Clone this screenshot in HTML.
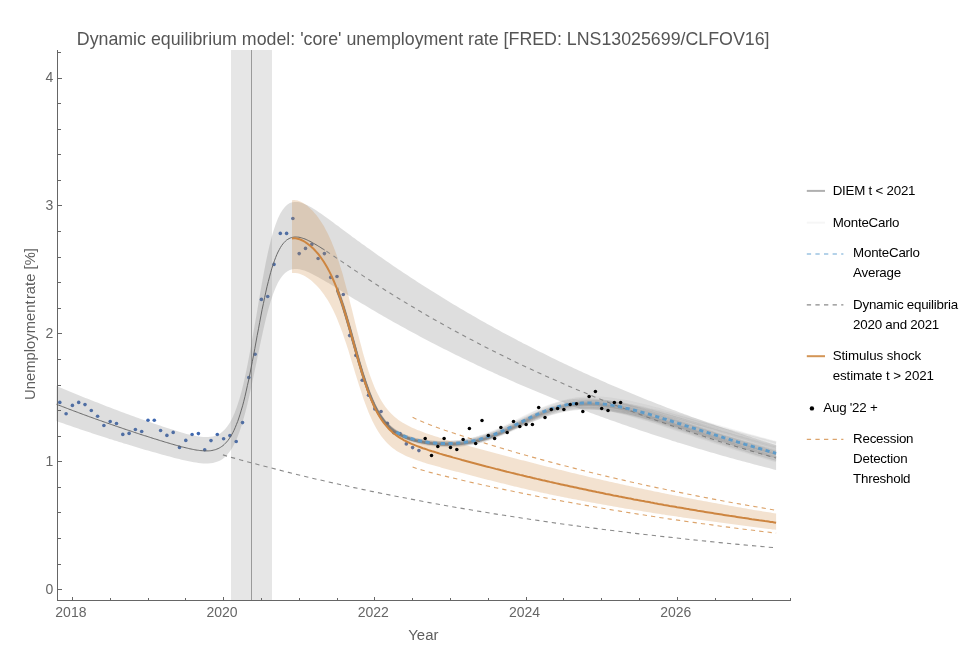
<!DOCTYPE html>
<html><head><meta charset="utf-8"><title>Dynamic equilibrium model</title>
<style>
html,body{margin:0;padding:0;background:#fff}
body{width:964px;height:668px;overflow:hidden;position:relative;font-family:"Liberation Sans",Arial,sans-serif}
svg{position:absolute;left:0;top:0}
svg text{font-family:"Liberation Sans",Arial,sans-serif}
.title{position:absolute;left:76.8px;top:28.5px;font-size:17.8px;line-height:20px;color:#555;white-space:nowrap}
.ylab{position:absolute;left:30.1px;top:324.3px;font-size:14.8px;line-height:16px;color:#5e5e5e;white-space:nowrap;transform:translate(-50%,-50%) rotate(-90deg)}
.xlab{position:absolute;left:408.3px;top:626.5px;font-size:14.9px;line-height:16px;color:#5e5e5e}
.lg{position:absolute;font-size:13.33px;letter-spacing:-0.23px;line-height:20px;color:#000;white-space:nowrap}
</style></head><body>
<svg width="964" height="668" viewBox="0 0 964 668">
<g fill="#3f68b0">
<circle cx="59.8" cy="402.4" r="1.8"/>
<circle cx="66.1" cy="413.7" r="1.8"/>
<circle cx="72.4" cy="405.4" r="1.8"/>
<circle cx="78.7" cy="402.4" r="1.8"/>
<circle cx="85.0" cy="404.6" r="1.8"/>
<circle cx="91.3" cy="410.5" r="1.8"/>
<circle cx="97.6" cy="416.3" r="1.8"/>
<circle cx="103.9" cy="425.5" r="1.8"/>
<circle cx="110.2" cy="421.5" r="1.8"/>
<circle cx="116.5" cy="423.5" r="1.8"/>
<circle cx="122.8" cy="434.4" r="1.8"/>
<circle cx="129.1" cy="433.4" r="1.8"/>
<circle cx="135.4" cy="429.5" r="1.8"/>
<circle cx="141.7" cy="431.5" r="1.8"/>
<circle cx="148.0" cy="420.3" r="1.8"/>
<circle cx="154.3" cy="420.3" r="1.8"/>
<circle cx="160.6" cy="430.5" r="1.8"/>
<circle cx="166.9" cy="435.4" r="1.8"/>
<circle cx="173.2" cy="432.4" r="1.8"/>
<circle cx="179.5" cy="447.4" r="1.8"/>
<circle cx="185.8" cy="440.4" r="1.8"/>
<circle cx="192.1" cy="434.5" r="1.8"/>
<circle cx="198.4" cy="433.6" r="1.8"/>
<circle cx="204.7" cy="449.8" r="1.8"/>
<circle cx="211.0" cy="440.6" r="1.8"/>
<circle cx="217.3" cy="434.5" r="1.8"/>
<circle cx="223.6" cy="438.8" r="1.8"/>
<circle cx="229.9" cy="435.6" r="1.8"/>
<circle cx="236.2" cy="441.5" r="1.8"/>
<circle cx="242.5" cy="422.6" r="1.8"/>
<circle cx="248.8" cy="377.6" r="1.8"/>
<circle cx="255.1" cy="354.3" r="1.8"/>
<circle cx="261.4" cy="299.4" r="1.8"/>
<circle cx="267.7" cy="296.5" r="1.8"/>
<circle cx="274.0" cy="264.4" r="1.8"/>
<circle cx="280.3" cy="233.4" r="1.8"/>
<circle cx="286.6" cy="233.4" r="1.8"/>
<circle cx="292.9" cy="218.5" r="1.8"/>
<circle cx="299.2" cy="253.6" r="1.8"/>
<circle cx="305.5" cy="248.4" r="1.8"/>
<circle cx="311.8" cy="244.4" r="1.8"/>
<circle cx="318.1" cy="258.5" r="1.8"/>
<circle cx="324.4" cy="253.6" r="1.8"/>
<circle cx="330.7" cy="277.4" r="1.8"/>
<circle cx="337.0" cy="276.5" r="1.8"/>
<circle cx="343.3" cy="294.5" r="1.8"/>
<circle cx="349.6" cy="335.6" r="1.8"/>
<circle cx="355.9" cy="355.4" r="1.8"/>
<circle cx="362.2" cy="380.2" r="1.8"/>
<circle cx="368.5" cy="395.2" r="1.8"/>
<circle cx="374.8" cy="408.9" r="1.8"/>
<circle cx="381.1" cy="411.5" r="1.8"/>
<circle cx="387.4" cy="423.4" r="1.8"/>
<circle cx="393.7" cy="432.8" r="1.8"/>
<circle cx="400.0" cy="433.5" r="1.8"/>
<circle cx="406.3" cy="443.9" r="1.8"/>
<circle cx="412.6" cy="447.6" r="1.8"/>
<circle cx="418.9" cy="450.6" r="1.8"/>
</g>
<rect x="231" y="50" width="41" height="550" fill="#808080" fill-opacity="0.2"/>
<rect x="251" y="50" width="1" height="550" fill="#9a9a9a"/>
<path d="M56.5,385.8 L58.9,386.9 L61.3,387.9 L63.7,388.9 L66.1,389.9 L68.5,390.9 L70.9,391.9 L73.3,392.9 L75.8,393.9 L78.2,394.9 L80.6,395.9 L83.0,396.9 L85.4,397.9 L87.8,398.8 L90.2,399.8 L92.6,400.7 L95.0,401.7 L97.4,402.6 L99.8,403.6 L102.2,404.5 L104.6,405.5 L107.0,406.4 L109.4,407.3 L111.9,408.2 L114.3,409.2 L116.7,410.1 L119.1,411.0 L121.5,411.9 L123.9,412.8 L126.3,413.7 L128.7,414.6 L131.1,415.4 L133.5,416.3 L135.9,417.2 L138.3,418.1 L140.7,418.9 L143.1,419.8 L145.5,420.6 L148.0,421.5 L150.4,422.3 L152.8,423.2 L155.2,424.0 L157.6,424.8 L160.0,425.6 L162.4,426.4 L164.8,427.2 L167.2,428.0 L169.6,428.8 L172.0,429.6 L174.4,430.3 L176.8,431.1 L179.2,431.8 L181.6,432.5 L184.1,433.2 L186.5,433.9 L188.9,434.5 L191.3,435.1 L193.7,435.6 L196.1,436.1 L198.5,436.5 L200.9,436.8 L203.3,437.0 L205.7,437.1 L208.1,437.1 L210.5,436.8 L212.9,436.4 L215.3,435.7 L217.7,434.7 L220.2,433.4 L222.6,431.6 L225.0,429.3 L227.4,426.3 L229.8,422.7 L232.2,418.3 L234.6,412.9 L237.0,406.6 L239.4,399.1 L241.8,390.4 L244.2,380.4 L246.6,369.3 L249.0,357.1 L251.4,344.0 L253.8,330.1 L256.3,315.9 L258.7,301.7 L261.1,287.7 L263.5,274.4 L265.9,262.0 L268.3,250.8 L270.7,240.8 L273.1,232.1 L275.5,224.7 L277.9,218.6 L280.3,213.6 L282.7,209.7 L285.1,206.7 L287.5,204.6 L289.9,203.1 L292.4,202.2 L294.8,201.9 L297.2,201.9 L299.6,202.3 L302.0,203.0 L304.4,203.9 L306.8,204.9 L309.2,206.2 L311.6,207.6 L314.0,209.0 L316.4,210.6 L318.8,212.2 L321.2,213.8 L323.6,215.5 L326.0,217.3 L328.5,219.0 L330.9,220.8 L333.3,222.6 L335.7,224.4 L338.1,226.1 L340.5,227.9 L342.9,229.7 L345.3,231.5 L347.7,233.3 L350.1,235.1 L352.5,236.9 L354.9,238.6 L357.3,240.4 L359.7,242.1 L362.1,243.9 L364.6,245.6 L367.0,247.4 L369.4,249.1 L371.8,250.8 L374.2,252.5 L376.6,254.2 L379.0,255.9 L381.4,257.6 L383.8,259.3 L386.2,260.9 L388.6,262.6 L391.0,264.3 L393.4,265.9 L395.8,267.5 L398.2,269.2 L400.7,270.8 L403.1,272.4 L405.5,274.0 L407.9,275.6 L410.3,277.2 L412.7,278.7 L415.1,280.3 L417.5,281.9 L419.9,283.4 L422.3,285.0 L424.7,286.5 L427.1,288.1 L429.5,289.6 L431.9,291.1 L434.4,292.6 L436.8,294.1 L439.2,295.6 L441.6,297.1 L444.0,298.6 L446.4,300.0 L448.8,301.5 L451.2,302.9 L453.6,304.4 L456.0,305.8 L458.4,307.3 L460.8,308.7 L463.2,310.1 L465.6,311.5 L468.0,312.9 L470.5,314.3 L472.9,315.7 L475.3,317.1 L477.7,318.5 L480.1,319.9 L482.5,321.2 L484.9,322.6 L487.3,323.9 L489.7,325.3 L492.1,326.6 L494.5,327.9 L496.9,329.3 L499.3,330.6 L501.7,331.9 L504.1,333.2 L506.6,334.5 L509.0,335.8 L511.4,337.0 L513.8,338.3 L516.2,339.6 L518.6,340.9 L521.0,342.1 L523.4,343.4 L525.8,344.6 L528.2,345.8 L530.6,347.1 L533.0,348.3 L535.4,349.5 L537.8,350.7 L540.2,351.9 L542.7,353.1 L545.1,354.3 L547.5,355.5 L549.9,356.7 L552.3,357.9 L554.7,359.1 L557.1,360.2 L559.5,361.4 L561.9,362.5 L564.3,363.7 L566.7,364.8 L569.1,366.0 L571.5,367.1 L573.9,368.2 L576.3,369.3 L578.8,370.4 L581.2,371.6 L583.6,372.7 L586.0,373.8 L588.4,374.8 L590.8,375.9 L593.2,377.0 L595.6,378.1 L598.0,379.1 L600.4,380.2 L602.8,381.3 L605.2,382.3 L607.6,383.4 L610.0,384.4 L612.4,385.4 L614.9,386.5 L617.3,387.5 L619.7,388.5 L622.1,389.5 L624.5,390.6 L626.9,391.6 L629.3,392.6 L631.7,393.6 L634.1,394.5 L636.5,395.5 L638.9,396.5 L641.3,397.5 L643.7,398.5 L646.1,399.4 L648.5,400.4 L651.0,401.3 L653.4,402.3 L655.8,403.2 L658.2,404.2 L660.6,405.1 L663.0,406.1 L665.4,407.0 L667.8,407.9 L670.2,408.8 L672.6,409.7 L675.0,410.6 L677.4,411.5 L679.8,412.4 L682.2,413.3 L684.6,414.2 L687.1,415.1 L689.5,416.0 L691.9,416.9 L694.3,417.7 L696.7,418.6 L699.1,419.5 L701.5,420.3 L703.9,421.2 L706.3,422.0 L708.7,422.9 L711.1,423.7 L713.5,424.6 L715.9,425.4 L718.3,426.2 L720.7,427.1 L723.2,427.9 L725.6,428.7 L728.0,429.5 L730.4,430.3 L732.8,431.1 L735.2,431.9 L737.6,432.7 L740.0,433.5 L742.4,434.3 L744.8,435.1 L747.2,435.9 L749.6,436.6 L752.0,437.4 L754.4,438.2 L756.8,439.0 L759.3,439.7 L761.7,440.5 L764.1,441.2 L766.5,442.0 L768.9,442.7 L771.3,443.5 L773.7,444.2 L776.1,444.9 L776.1,470.0 L773.7,469.4 L771.3,468.8 L768.9,468.1 L766.5,467.5 L764.1,466.9 L761.7,466.3 L759.3,465.7 L756.8,465.0 L754.4,464.4 L752.0,463.8 L749.6,463.1 L747.2,462.5 L744.8,461.8 L742.4,461.2 L740.0,460.5 L737.6,459.9 L735.2,459.2 L732.8,458.6 L730.4,457.9 L728.0,457.2 L725.6,456.5 L723.2,455.9 L720.7,455.2 L718.3,454.5 L715.9,453.8 L713.5,453.1 L711.1,452.4 L708.7,451.7 L706.3,451.0 L703.9,450.3 L701.5,449.6 L699.1,448.9 L696.7,448.2 L694.3,447.5 L691.9,446.8 L689.5,446.0 L687.1,445.3 L684.6,444.6 L682.2,443.8 L679.8,443.1 L677.4,442.4 L675.0,441.6 L672.6,440.9 L670.2,440.1 L667.8,439.3 L665.4,438.6 L663.0,437.8 L660.6,437.0 L658.2,436.3 L655.8,435.5 L653.4,434.7 L651.0,433.9 L648.5,433.1 L646.1,432.3 L643.7,431.5 L641.3,430.7 L638.9,429.9 L636.5,429.1 L634.1,428.3 L631.7,427.5 L629.3,426.7 L626.9,425.8 L624.5,425.0 L622.1,424.2 L619.7,423.3 L617.3,422.5 L614.9,421.6 L612.4,420.8 L610.0,419.9 L607.6,419.1 L605.2,418.2 L602.8,417.3 L600.4,416.4 L598.0,415.6 L595.6,414.7 L593.2,413.8 L590.8,412.9 L588.4,412.0 L586.0,411.1 L583.6,410.2 L581.2,409.3 L578.8,408.4 L576.3,407.4 L573.9,406.5 L571.5,405.6 L569.1,404.7 L566.7,403.7 L564.3,402.8 L561.9,401.8 L559.5,400.9 L557.1,399.9 L554.7,399.0 L552.3,398.0 L549.9,397.0 L547.5,396.0 L545.1,395.0 L542.7,394.1 L540.2,393.1 L537.8,392.1 L535.4,391.1 L533.0,390.1 L530.6,389.0 L528.2,388.0 L525.8,387.0 L523.4,386.0 L521.0,384.9 L518.6,383.9 L516.2,382.9 L513.8,381.8 L511.4,380.7 L509.0,379.7 L506.6,378.6 L504.1,377.6 L501.7,376.5 L499.3,375.4 L496.9,374.3 L494.5,373.2 L492.1,372.1 L489.7,371.0 L487.3,369.9 L484.9,368.8 L482.5,367.7 L480.1,366.5 L477.7,365.4 L475.3,364.3 L472.9,363.1 L470.5,362.0 L468.0,360.8 L465.6,359.6 L463.2,358.5 L460.8,357.3 L458.4,356.1 L456.0,354.9 L453.6,353.7 L451.2,352.6 L448.8,351.3 L446.4,350.1 L444.0,348.9 L441.6,347.7 L439.2,346.5 L436.8,345.2 L434.4,344.0 L431.9,342.7 L429.5,341.5 L427.1,340.2 L424.7,339.0 L422.3,337.7 L419.9,336.4 L417.5,335.1 L415.1,333.8 L412.7,332.5 L410.3,331.2 L407.9,329.9 L405.5,328.6 L403.1,327.3 L400.7,325.9 L398.2,324.6 L395.8,323.3 L393.4,321.9 L391.0,320.5 L388.6,319.2 L386.2,317.8 L383.8,316.4 L381.4,315.0 L379.0,313.7 L376.6,312.3 L374.2,310.8 L371.8,309.4 L369.4,308.0 L367.0,306.6 L364.6,305.1 L362.1,303.7 L359.7,302.3 L357.3,300.8 L354.9,299.4 L352.5,297.9 L350.1,296.4 L347.7,294.9 L345.3,293.5 L342.9,292.0 L340.5,290.5 L338.1,289.0 L335.7,287.6 L333.3,286.1 L330.9,284.6 L328.5,283.1 L326.0,281.7 L323.6,280.3 L321.2,278.9 L318.8,277.5 L316.4,276.2 L314.0,274.9 L311.6,273.7 L309.2,272.5 L306.8,271.5 L304.4,270.6 L302.0,269.9 L299.6,269.3 L297.2,269.0 L294.8,268.9 L292.4,269.3 L289.9,270.0 L287.5,271.2 L285.1,273.0 L282.7,275.5 L280.3,278.7 L277.9,282.8 L275.5,287.9 L273.1,294.0 L270.7,301.2 L268.3,309.4 L265.9,318.7 L263.5,329.0 L261.1,340.0 L258.7,351.5 L256.3,363.3 L253.8,375.0 L251.4,386.5 L249.0,397.3 L246.6,407.4 L244.2,416.6 L241.8,424.8 L239.4,432.0 L237.0,438.2 L234.6,443.5 L232.2,447.9 L229.8,451.6 L227.4,454.6 L225.0,457.0 L222.6,458.9 L220.2,460.4 L217.7,461.5 L215.3,462.3 L212.9,462.9 L210.5,463.3 L208.1,463.5 L205.7,463.5 L203.3,463.4 L200.9,463.2 L198.5,463.0 L196.1,462.6 L193.7,462.2 L191.3,461.8 L188.9,461.3 L186.5,460.8 L184.1,460.3 L181.6,459.7 L179.2,459.1 L176.8,458.5 L174.4,457.9 L172.0,457.3 L169.6,456.6 L167.2,456.0 L164.8,455.3 L162.4,454.7 L160.0,454.0 L157.6,453.3 L155.2,452.6 L152.8,452.0 L150.4,451.3 L148.0,450.6 L145.5,449.9 L143.1,449.2 L140.7,448.5 L138.3,447.7 L135.9,447.0 L133.5,446.3 L131.1,445.6 L128.7,444.8 L126.3,444.1 L123.9,443.4 L121.5,442.6 L119.1,441.9 L116.7,441.1 L114.3,440.4 L111.9,439.6 L109.4,438.9 L107.0,438.1 L104.6,437.3 L102.2,436.6 L99.8,435.8 L97.4,435.0 L95.0,434.2 L92.6,433.4 L90.2,432.6 L87.8,431.8 L85.4,431.0 L83.0,430.2 L80.6,429.4 L78.2,428.6 L75.8,427.8 L73.3,427.0 L70.9,426.1 L68.5,425.3 L66.1,424.5 L63.7,423.6 L61.3,422.8 L58.9,421.9 L56.5,421.1Z" fill="#808080" fill-opacity="0.26"/>
<path d="M292.0,200.3 L293.9,200.1 L295.7,200.2 L297.6,200.6 L299.5,201.2 L301.3,202.0 L303.2,203.0 L305.1,204.2 L307.0,205.6 L308.8,207.2 L310.7,208.9 L312.6,210.8 L314.4,212.9 L316.3,215.1 L318.2,217.6 L320.0,220.2 L321.9,223.1 L323.8,226.1 L325.6,229.5 L327.5,233.1 L329.4,237.0 L331.3,241.2 L333.1,245.7 L335.0,250.6 L336.9,255.8 L338.7,261.4 L340.6,267.4 L342.5,273.6 L344.3,280.3 L346.2,287.2 L348.1,294.3 L349.9,301.7 L351.8,309.1 L353.7,316.7 L355.5,324.2 L357.4,331.7 L359.3,339.0 L361.2,346.1 L363.0,353.0 L364.9,359.5 L366.8,365.7 L368.6,371.4 L370.5,376.8 L372.4,381.8 L374.2,386.5 L376.1,390.7 L378.0,394.6 L379.8,398.1 L381.7,401.3 L383.6,404.2 L385.5,406.9 L387.3,409.3 L389.2,411.5 L391.1,413.5 L392.9,415.3 L394.8,417.0 L396.7,418.5 L398.5,419.9 L400.4,421.2 L402.3,422.4 L404.1,423.6 L406.0,424.6 L407.9,425.6 L409.8,426.6 L411.6,427.4 L413.5,428.3 L415.4,429.1 L417.2,429.9 L419.1,430.6 L421.0,431.3 L422.8,432.0 L424.7,432.7 L426.6,433.4 L428.4,434.0 L430.3,434.7 L432.2,435.3 L434.1,435.9 L435.9,436.5 L437.8,437.1 L439.7,437.7 L441.5,438.2 L443.4,438.8 L445.3,439.4 L447.1,439.9 L449.0,440.5 L450.9,441.0 L452.7,441.6 L454.6,442.1 L456.5,442.6 L458.4,443.1 L460.2,443.7 L462.1,444.2 L464.0,444.7 L465.8,445.2 L467.7,445.7 L469.6,446.3 L471.4,446.8 L473.3,447.3 L475.2,447.8 L477.0,448.3 L478.9,448.8 L480.8,449.3 L482.6,449.8 L484.5,450.3 L486.4,450.8 L488.3,451.3 L490.1,451.8 L492.0,452.3 L493.9,452.8 L495.7,453.3 L497.6,453.8 L499.5,454.3 L501.3,454.8 L503.2,455.3 L505.1,455.8 L506.9,456.2 L508.8,456.7 L510.7,457.2 L512.6,457.7 L514.4,458.2 L516.3,458.7 L518.2,459.2 L520.0,459.7 L521.9,460.2 L523.8,460.6 L525.6,461.1 L527.5,461.6 L529.4,462.1 L531.2,462.6 L533.1,463.1 L535.0,463.5 L536.9,464.0 L538.7,464.5 L540.6,465.0 L542.5,465.4 L544.3,465.9 L546.2,466.4 L548.1,466.9 L549.9,467.3 L551.8,467.8 L553.7,468.3 L555.5,468.7 L557.4,469.2 L559.3,469.7 L561.2,470.1 L563.0,470.6 L564.9,471.1 L566.8,471.5 L568.6,472.0 L570.5,472.4 L572.4,472.9 L574.2,473.3 L576.1,473.8 L578.0,474.2 L579.8,474.7 L581.7,475.1 L583.6,475.6 L585.5,476.0 L587.3,476.5 L589.2,476.9 L591.1,477.4 L592.9,477.8 L594.8,478.2 L596.7,478.7 L598.5,479.1 L600.4,479.5 L602.3,480.0 L604.1,480.4 L606.0,480.8 L607.9,481.2 L609.7,481.7 L611.6,482.1 L613.5,482.5 L615.4,482.9 L617.2,483.3 L619.1,483.8 L621.0,484.2 L622.8,484.6 L624.7,485.0 L626.6,485.4 L628.4,485.8 L630.3,486.2 L632.2,486.6 L634.0,487.0 L635.9,487.4 L637.8,487.8 L639.7,488.2 L641.5,488.6 L643.4,489.0 L645.3,489.4 L647.1,489.8 L649.0,490.2 L650.9,490.6 L652.7,491.0 L654.6,491.4 L656.5,491.8 L658.3,492.1 L660.2,492.5 L662.1,492.9 L664.0,493.3 L665.8,493.7 L667.7,494.0 L669.6,494.4 L671.4,494.8 L673.3,495.2 L675.2,495.5 L677.0,495.9 L678.9,496.3 L680.8,496.6 L682.6,497.0 L684.5,497.4 L686.4,497.7 L688.3,498.1 L690.1,498.4 L692.0,498.8 L693.9,499.2 L695.7,499.5 L697.6,499.9 L699.5,500.2 L701.3,500.6 L703.2,500.9 L705.1,501.3 L706.9,501.6 L708.8,502.0 L710.7,502.3 L712.6,502.7 L714.4,503.0 L716.3,503.3 L718.2,503.7 L720.0,504.0 L721.9,504.3 L723.8,504.7 L725.6,505.0 L727.5,505.3 L729.4,505.7 L731.2,506.0 L733.1,506.3 L735.0,506.7 L736.8,507.0 L738.7,507.3 L740.6,507.6 L742.5,508.0 L744.3,508.3 L746.2,508.6 L748.1,508.9 L749.9,509.2 L751.8,509.5 L753.7,509.9 L755.5,510.2 L757.4,510.5 L759.3,510.8 L761.1,511.1 L763.0,511.4 L764.9,511.7 L766.8,512.0 L768.6,512.3 L770.5,512.6 L772.4,512.9 L774.2,513.2 L776.1,513.5 L776.1,529.8 L774.2,529.6 L772.4,529.4 L770.5,529.1 L768.6,528.9 L766.8,528.7 L764.9,528.4 L763.0,528.2 L761.1,528.0 L759.3,527.7 L757.4,527.5 L755.5,527.2 L753.7,527.0 L751.8,526.8 L749.9,526.5 L748.1,526.3 L746.2,526.0 L744.3,525.8 L742.5,525.6 L740.6,525.3 L738.7,525.1 L736.8,524.8 L735.0,524.6 L733.1,524.3 L731.2,524.1 L729.4,523.8 L727.5,523.6 L725.6,523.3 L723.8,523.1 L721.9,522.8 L720.0,522.6 L718.2,522.3 L716.3,522.1 L714.4,521.8 L712.6,521.6 L710.7,521.3 L708.8,521.1 L706.9,520.8 L705.1,520.6 L703.2,520.3 L701.3,520.0 L699.5,519.8 L697.6,519.5 L695.7,519.3 L693.9,519.0 L692.0,518.7 L690.1,518.5 L688.3,518.2 L686.4,517.9 L684.5,517.7 L682.6,517.4 L680.8,517.1 L678.9,516.9 L677.0,516.6 L675.2,516.3 L673.3,516.0 L671.4,515.8 L669.6,515.5 L667.7,515.2 L665.8,514.9 L664.0,514.6 L662.1,514.4 L660.2,514.1 L658.3,513.8 L656.5,513.5 L654.6,513.2 L652.7,512.9 L650.9,512.6 L649.0,512.3 L647.1,512.0 L645.3,511.7 L643.4,511.4 L641.5,511.1 L639.7,510.8 L637.8,510.5 L635.9,510.2 L634.0,509.9 L632.2,509.6 L630.3,509.3 L628.4,509.0 L626.6,508.7 L624.7,508.4 L622.8,508.0 L621.0,507.7 L619.1,507.4 L617.2,507.1 L615.4,506.8 L613.5,506.4 L611.6,506.1 L609.7,505.8 L607.9,505.5 L606.0,505.1 L604.1,504.8 L602.3,504.5 L600.4,504.1 L598.5,503.8 L596.7,503.5 L594.8,503.1 L592.9,502.8 L591.1,502.4 L589.2,502.1 L587.3,501.7 L585.5,501.4 L583.6,501.0 L581.7,500.7 L579.8,500.3 L578.0,500.0 L576.1,499.6 L574.2,499.3 L572.4,498.9 L570.5,498.5 L568.6,498.2 L566.8,497.8 L564.9,497.4 L563.0,497.1 L561.2,496.7 L559.3,496.3 L557.4,495.9 L555.5,495.5 L553.7,495.2 L551.8,494.8 L549.9,494.4 L548.1,494.0 L546.2,493.6 L544.3,493.2 L542.5,492.8 L540.6,492.4 L538.7,492.0 L536.9,491.6 L535.0,491.2 L533.1,490.7 L531.2,490.3 L529.4,489.9 L527.5,489.5 L525.6,489.0 L523.8,488.6 L521.9,488.2 L520.0,487.7 L518.2,487.3 L516.3,486.8 L514.4,486.4 L512.6,485.9 L510.7,485.5 L508.8,485.0 L506.9,484.6 L505.1,484.1 L503.2,483.6 L501.3,483.2 L499.5,482.7 L497.6,482.2 L495.7,481.8 L493.9,481.3 L492.0,480.8 L490.1,480.3 L488.3,479.9 L486.4,479.4 L484.5,478.9 L482.6,478.4 L480.8,478.0 L478.9,477.5 L477.0,477.0 L475.2,476.5 L473.3,476.0 L471.4,475.6 L469.6,475.1 L467.7,474.6 L465.8,474.1 L464.0,473.6 L462.1,473.1 L460.2,472.6 L458.4,472.1 L456.5,471.7 L454.6,471.2 L452.7,470.7 L450.9,470.2 L449.0,469.7 L447.1,469.2 L445.3,468.7 L443.4,468.2 L441.5,467.7 L439.7,467.1 L437.8,466.6 L435.9,466.1 L434.1,465.6 L432.2,465.0 L430.3,464.5 L428.4,463.9 L426.6,463.4 L424.7,462.8 L422.8,462.2 L421.0,461.6 L419.1,461.0 L417.2,460.3 L415.4,459.7 L413.5,459.0 L411.6,458.3 L409.8,457.5 L407.9,456.8 L406.0,455.9 L404.1,455.0 L402.3,454.1 L400.4,453.1 L398.5,452.0 L396.7,450.9 L394.8,449.6 L392.9,448.2 L391.1,446.7 L389.2,445.1 L387.3,443.3 L385.5,441.3 L383.6,439.1 L381.7,436.8 L379.8,434.1 L378.0,431.2 L376.1,428.1 L374.2,424.6 L372.4,420.9 L370.5,416.8 L368.6,412.4 L366.8,407.7 L364.9,402.7 L363.0,397.4 L361.2,391.8 L359.3,386.0 L357.4,380.1 L355.5,374.0 L353.7,367.9 L351.8,361.7 L349.9,355.6 L348.1,349.6 L346.2,343.8 L344.3,338.2 L342.5,332.8 L340.6,327.7 L338.7,322.9 L336.9,318.3 L335.0,314.1 L333.1,310.1 L331.3,306.4 L329.4,303.0 L327.5,299.8 L325.6,296.9 L323.8,294.2 L321.9,291.7 L320.0,289.3 L318.2,287.2 L316.3,285.2 L314.4,283.4 L312.6,281.7 L310.7,280.1 L308.8,278.7 L307.0,277.5 L305.1,276.3 L303.2,275.3 L301.3,274.5 L299.5,273.8 L297.6,273.3 L295.7,273.0 L293.9,273.0 L292.0,273.1Z" fill="#d08a45" fill-opacity="0.25"/>
<path d="M222.9,454.9 L232.2,457.6 L241.6,460.2 L251.0,462.7 L260.4,465.2 L269.7,467.6 L279.1,470.0 L288.5,472.4 L297.9,474.7 L307.3,477.0 L316.6,479.2 L326.0,481.3 L335.4,483.5 L344.8,485.5 L354.1,487.6 L363.5,489.6 L372.9,491.6 L382.3,493.5 L391.6,495.4 L401.0,497.2 L410.4,499.0 L419.8,500.8 L429.2,502.6 L438.5,504.3 L447.9,506.0 L457.3,507.6 L466.7,509.2 L476.0,510.8 L485.4,512.3 L494.8,513.9 L504.2,515.3 L513.5,516.8 L522.9,518.2 L532.3,519.6 L541.7,521.0 L551.1,522.4 L560.4,523.7 L569.8,525.0 L579.2,526.2 L588.6,527.5 L597.9,528.7 L607.3,529.9 L616.7,531.1 L626.1,532.2 L635.4,533.4 L644.8,534.5 L654.2,535.5 L663.6,536.6 L673.0,537.6 L682.3,538.7 L691.7,539.7 L701.1,540.6 L710.5,541.6 L719.8,542.6 L729.2,543.5 L738.6,544.4 L748.0,545.3 L757.3,546.1 L766.7,547.0 L776.1,547.8" fill="none" stroke="#8a8a8a" stroke-width="1.1" stroke-dasharray="4.3,4.1"/>
<path d="M326.4,251.3 L330.2,253.8 L334.0,256.3 L337.8,258.9 L341.6,261.4 L345.3,264.0 L349.1,266.5 L352.9,269.1 L356.7,271.6 L360.5,274.1 L364.2,276.6 L368.0,279.1 L371.8,281.5 L375.6,284.0 L379.3,286.4 L383.1,288.8 L386.9,291.2 L390.7,293.5 L394.5,295.9 L398.2,298.2 L402.0,300.5 L405.8,302.8 L409.6,305.1 L413.4,307.3 L417.1,309.6 L420.9,311.8 L424.7,314.0 L428.5,316.2 L432.2,318.3 L436.0,320.5 L439.8,322.6 L443.6,324.7 L447.4,326.8 L451.1,328.9 L454.9,331.0 L458.7,333.0 L462.5,335.0 L466.3,337.1 L470.0,339.1 L473.8,341.0 L477.6,343.0 L481.4,345.0 L485.1,346.9 L488.9,348.8 L492.7,350.7 L496.5,352.6 L500.3,354.5 L504.0,356.4 L507.8,358.2 L511.6,360.0 L515.4,361.9 L519.2,363.7 L522.9,365.5 L526.7,367.2 L530.5,369.0 L534.3,370.7 L538.0,372.5 L541.8,374.2 L545.6,375.9 L549.4,377.6 L553.2,379.3 L556.9,380.9 L560.7,382.6 L564.5,384.2 L568.3,385.9 L572.1,387.5 L575.8,389.1 L579.6,390.7 L583.4,392.2 L587.2,393.8 L590.9,395.4 L594.7,396.9 L598.5,398.4 L602.3,399.9 L606.1,401.4 L609.8,402.9 L613.6,404.4 L617.4,405.9 L621.2,407.3 L625.0,408.8 L628.7,410.2 L632.5,411.6 L636.3,413.0 L640.1,414.4 L643.8,415.8 L647.6,417.2 L651.4,418.6 L655.2,419.9 L659.0,421.3 L662.7,422.6 L666.5,423.9 L670.3,425.2 L674.1,426.5 L677.9,427.8 L681.6,429.1 L685.4,430.4 L689.2,431.6 L693.0,432.9 L696.7,434.1 L700.5,435.4 L704.3,436.6 L708.1,437.8 L711.9,439.0 L715.6,440.2 L719.4,441.4 L723.2,442.6 L727.0,443.7 L730.8,444.9 L734.5,446.0 L738.3,447.2 L742.1,448.3 L745.9,449.4 L749.6,450.5 L753.4,451.6 L757.2,452.7 L761.0,453.8 L764.8,454.9 L768.5,455.9 L772.3,457.0 L776.1,458.0" fill="none" stroke="#8a8a8a" stroke-width="1.1" stroke-dasharray="4.3,4.1"/>
<path d="M412.6,417.3 L417.2,419.5 L421.8,421.5 L426.4,423.4 L431.0,425.2 L435.6,426.9 L440.2,428.6 L444.8,430.2 L449.5,431.7 L454.1,433.3 L458.7,434.8 L463.3,436.3 L467.9,437.8 L472.5,439.3 L477.1,440.7 L481.7,442.2 L486.3,443.6 L490.9,445.0 L495.5,446.4 L500.1,447.8 L504.7,449.1 L509.3,450.5 L513.9,451.8 L518.5,453.2 L523.1,454.5 L527.7,455.8 L532.3,457.1 L536.9,458.3 L541.5,459.6 L546.1,460.9 L550.7,462.1 L555.3,463.3 L559.9,464.6 L564.5,465.8 L569.1,466.9 L573.7,468.1 L578.3,469.3 L582.9,470.5 L587.5,471.6 L592.1,472.7 L596.7,473.9 L601.3,475.0 L605.9,476.1 L610.5,477.2 L615.1,478.3 L619.7,479.3 L624.3,480.4 L628.9,481.5 L633.5,482.5 L638.1,483.5 L642.7,484.6 L647.3,485.6 L651.9,486.6 L656.5,487.6 L661.1,488.5 L665.7,489.5 L670.3,490.5 L674.9,491.4 L679.5,492.4 L684.1,493.3 L688.7,494.2 L693.3,495.2 L697.9,496.1 L702.5,497.0 L707.1,497.9 L711.7,498.8 L716.3,499.6 L720.9,500.5 L725.5,501.4 L730.1,502.2 L734.7,503.1 L739.3,503.9 L743.9,504.7 L748.5,505.5 L753.1,506.3 L757.7,507.1 L762.3,507.9 L766.9,508.7 L771.5,509.5 L776.1,510.3" fill="none" stroke="#dca46c" stroke-width="1.1" stroke-dasharray="4.3,4.1"/>
<path d="M412.6,467.0 L417.2,468.6 L421.8,470.0 L426.4,471.3 L431.0,472.6 L435.6,473.8 L440.2,475.0 L444.8,476.1 L449.5,477.2 L454.1,478.3 L458.7,479.4 L463.3,480.5 L467.9,481.6 L472.5,482.6 L477.1,483.6 L481.7,484.7 L486.3,485.7 L490.9,486.7 L495.5,487.7 L500.1,488.7 L504.7,489.6 L509.3,490.6 L513.9,491.5 L518.5,492.5 L523.1,493.4 L527.7,494.4 L532.3,495.3 L536.9,496.2 L541.5,497.1 L546.1,498.0 L550.7,498.9 L555.3,499.7 L559.9,500.6 L564.5,501.5 L569.1,502.3 L573.7,503.1 L578.3,504.0 L582.9,504.8 L587.5,505.6 L592.1,506.4 L596.7,507.2 L601.3,508.0 L605.9,508.8 L610.5,509.6 L615.1,510.4 L619.7,511.1 L624.3,511.9 L628.9,512.6 L633.5,513.4 L638.1,514.1 L642.7,514.8 L647.3,515.6 L651.9,516.3 L656.5,517.0 L661.1,517.7 L665.7,518.4 L670.3,519.1 L674.9,519.7 L679.5,520.4 L684.1,521.1 L688.7,521.7 L693.3,522.4 L697.9,523.0 L702.5,523.7 L707.1,524.3 L711.7,524.9 L716.3,525.6 L720.9,526.2 L725.5,526.8 L730.1,527.4 L734.7,528.0 L739.3,528.6 L743.9,529.2 L748.5,529.8 L753.1,530.3 L757.7,530.9 L762.3,531.5 L766.9,532.0 L771.5,532.6 L776.1,533.1" fill="none" stroke="#dca46c" stroke-width="1.1" stroke-dasharray="4.3,4.1"/>
<path d="M56.5,404.3 L57.7,404.8 L58.9,405.3 L60.2,405.7 L61.4,406.2 L62.6,406.7 L63.8,407.1 L65.1,407.6 L66.3,408.1 L67.5,408.5 L68.7,409.0 L70.0,409.5 L71.2,409.9 L72.4,410.4 L73.6,410.9 L74.9,411.3 L76.1,411.8 L77.3,412.2 L78.5,412.7 L79.8,413.2 L81.0,413.6 L82.2,414.1 L83.4,414.5 L84.7,415.0 L85.9,415.4 L87.1,415.9 L88.3,416.3 L89.5,416.8 L90.8,417.2 L92.0,417.6 L93.2,418.1 L94.4,418.5 L95.7,419.0 L96.9,419.4 L98.1,419.8 L99.3,420.3 L100.6,420.7 L101.8,421.1 L103.0,421.6 L104.2,422.0 L105.5,422.4 L106.7,422.9 L107.9,423.3 L109.1,423.7 L110.4,424.2 L111.6,424.6 L112.8,425.0 L114.0,425.4 L115.3,425.9 L116.5,426.3 L117.7,426.7 L118.9,427.1 L120.1,427.5 L121.4,427.9 L122.6,428.4 L123.8,428.8 L125.0,429.2 L126.3,429.6 L127.5,430.0 L128.7,430.4 L129.9,430.8 L131.2,431.2 L132.4,431.6 L133.6,432.1 L134.8,432.5 L136.1,432.9 L137.3,433.3 L138.5,433.7 L139.7,434.1 L141.0,434.5 L142.2,434.9 L143.4,435.3 L144.6,435.7 L145.9,436.0 L147.1,436.4 L148.3,436.8 L149.5,437.2 L150.7,437.6 L152.0,438.0 L153.2,438.4 L154.4,438.8 L155.6,439.1 L156.9,439.5 L158.1,439.9 L159.3,440.3 L160.5,440.7 L161.8,441.0 L163.0,441.4 L164.2,441.8 L165.4,442.2 L166.7,442.5 L167.9,442.9 L169.1,443.2 L170.3,443.6 L171.6,444.0 L172.8,444.3 L174.0,444.7 L175.2,445.0 L176.5,445.4 L177.7,445.7 L178.9,446.0 L180.1,446.4 L181.3,446.7 L182.6,447.0 L183.8,447.3 L185.0,447.6 L186.2,447.9 L187.5,448.2 L188.7,448.5 L189.9,448.8 L191.1,449.0 L192.4,449.3 L193.6,449.5 L194.8,449.8 L196.0,450.0 L197.3,450.2 L198.5,450.3 L199.7,450.5 L200.9,450.6 L202.2,450.7 L203.4,450.8 L204.6,450.9 L205.8,450.9 L207.1,450.9 L208.3,450.9 L209.5,450.8 L210.7,450.7 L211.9,450.5 L213.2,450.2 L214.4,449.9 L215.6,449.6 L216.8,449.1 L218.1,448.6 L219.3,448.0 L220.5,447.3 L221.7,446.5 L223.0,445.6 L224.2,444.5 L225.4,443.3 L226.6,442.0 L227.9,440.5 L229.1,438.9 L230.3,437.0 L231.5,435.0 L232.8,432.7 L234.0,430.3 L235.2,427.6 L236.4,424.6 L237.7,421.4 L238.9,417.9 L240.1,414.2 L241.3,410.1 L242.6,405.8 L243.8,401.2 L245.0,396.3 L246.2,391.1 L247.4,385.6 L248.7,379.9 L249.9,374.0 L251.1,367.9 L252.3,361.6 L253.6,355.1 L254.8,348.6 L256.0,342.0 L257.2,335.4 L258.5,328.8 L259.7,322.3 L260.9,315.9 L262.1,309.6 L263.4,303.6 L264.6,297.7 L265.8,292.1 L267.0,286.7 L268.3,281.6 L269.5,276.9 L270.7,272.4 L271.9,268.2 L273.2,264.4 L274.4,260.8 L275.6,257.6 L276.8,254.6 L278.0,252.0 L279.3,249.6 L280.5,247.4 L281.7,245.5 L282.9,243.9 L284.2,242.4 L285.4,241.2 L286.6,240.1 L287.8,239.3 L289.1,238.6 L290.3,238.0 L291.5,237.6 L292.7,237.3 L294.0,237.1 L295.2,237.0 L296.4,237.0 L297.6,237.1 L298.9,237.2 L300.1,237.5 L301.3,237.8 L302.5,238.2 L303.8,238.6 L305.0,239.0 L306.2,239.5 L307.4,240.1 L308.6,240.7 L309.9,241.3 L311.1,241.9 L312.3,242.6 L313.5,243.3 L314.8,244.0 L316.0,244.7 L317.2,245.4 L318.4,246.2 L319.7,246.9 L320.9,247.7 L322.1,248.5 L323.3,249.2 L324.6,250.0" fill="none" stroke="#626262" stroke-width="0.95"/>
<g fill="none" stroke="#7a7a7a" stroke-opacity="0.09" stroke-width="2.3">
<path d="M337.0,287.3 L340.2,295.9 L343.4,305.5 L346.5,315.9 L349.7,326.9 L352.8,338.2 L356.0,349.7 L359.1,360.9 L362.3,371.5 L365.5,381.4 L368.6,390.4 L371.8,398.3 L374.9,405.2 L378.1,411.1 L381.3,416.2 L384.4,420.4 L387.6,424.0 L390.7,427.0 L393.9,429.5 L397.1,431.6 L400.2,433.4 L403.4,434.9 L406.5,436.2 L409.7,437.2 L412.8,438.2 L416.0,439.0 L419.2,439.7 L422.3,440.2 L425.5,440.7 L428.6,441.1 L431.8,441.4 L435.0,441.7 L438.1,441.8 L441.3,441.9 L444.4,441.9 L447.6,441.8 L450.7,441.7 L453.9,441.5 L457.1,441.2 L460.2,440.8 L463.4,440.3 L466.5,439.7 L469.7,439.1 L472.9,438.3 L476.0,437.5 L479.2,436.6 L482.3,435.6 L485.5,434.5 L488.7,433.4 L491.8,432.1 L495.0,430.8 L498.1,429.5 L501.3,428.0 L504.4,426.6 L507.6,425.0 L510.8,423.5 L513.9,421.9 L517.1,420.3 L520.2,418.7 L523.4,417.1 L526.6,415.5 L529.7,414.0 L532.9,412.5 L536.0,411.0 L539.2,409.7 L542.4,408.3 L545.5,407.1 L548.7,405.9 L551.8,404.8 L555.0,403.9 L558.1,403.0 L561.3,402.2 L564.5,401.5 L567.6,401.0 L570.8,400.5 L573.9,400.1 L577.1,399.8 L580.3,399.7 L583.4,399.6 L586.6,399.6 L589.7,399.7 L592.9,399.8 L596.1,400.1 L599.2,400.4 L602.4,400.7 L605.5,401.2 L608.7,401.7 L611.8,402.2 L615.0,402.9 L618.2,403.5 L621.3,404.2 L624.5,405.0 L627.6,405.7 L630.8,406.5 L634.0,407.4 L637.1,408.2 L640.3,409.1 L643.4,410.0 L646.6,411.0 L649.8,411.9 L652.9,412.9 L656.1,413.9 L659.2,414.9 L662.4,415.9 L665.5,416.9 L668.7,417.9 L671.9,418.9 L675.0,419.9 L678.2,421.0 L681.3,422.0 L684.5,423.0 L687.7,424.1 L690.8,425.1 L694.0,426.1 L697.1,427.2 L700.3,428.2 L703.4,429.2 L706.6,430.3 L709.8,431.3 L712.9,432.3 L716.1,433.3 L719.2,434.4 L722.4,435.4 L725.6,436.4 L728.7,437.4 L731.9,438.4 L735.0,439.4 L738.2,440.4 L741.4,441.4 L744.5,442.3 L747.7,443.3 L750.8,444.3 L754.0,445.3 L757.1,446.2 L760.3,447.2 L763.5,448.1 L766.6,449.1 L769.8,450.0 L772.9,450.9 L776.1,451.9"/>
<path d="M337.0,289.3 L340.2,297.9 L343.4,307.4 L346.5,317.8 L349.7,328.7 L352.8,340.0 L356.0,351.4 L359.1,362.5 L362.3,373.1 L365.5,382.9 L368.6,391.8 L371.8,399.7 L374.9,406.6 L378.1,412.5 L381.3,417.5 L384.4,421.8 L387.6,425.3 L390.7,428.3 L393.9,430.8 L397.1,433.0 L400.2,434.8 L403.4,436.3 L406.5,437.6 L409.7,438.7 L412.8,439.7 L416.0,440.5 L419.2,441.2 L422.3,441.8 L425.5,442.3 L428.6,442.7 L431.8,443.1 L435.0,443.4 L438.1,443.6 L441.3,443.7 L444.4,443.7 L447.6,443.7 L450.7,443.6 L453.9,443.4 L457.1,443.1 L460.2,442.8 L463.4,442.3 L466.5,441.8 L469.7,441.2 L472.9,440.5 L476.0,439.7 L479.2,438.8 L482.3,437.9 L485.5,436.8 L488.7,435.7 L491.8,434.5 L495.0,433.2 L498.1,431.9 L501.3,430.5 L504.4,429.1 L507.6,427.6 L510.8,426.0 L513.9,424.5 L517.1,422.9 L520.2,421.3 L523.4,419.8 L526.6,418.2 L529.7,416.7 L532.9,415.3 L536.0,413.8 L539.2,412.5 L542.4,411.2 L545.5,410.0 L548.7,408.9 L551.8,407.6 L555.0,406.5 L558.1,405.5 L561.3,404.5 L564.5,403.7 L567.6,402.9 L570.8,402.3 L573.9,401.7 L577.1,401.3 L580.3,400.9 L583.4,400.7 L586.6,400.5 L589.7,400.4 L592.9,400.4 L596.1,400.4 L599.2,400.6 L602.4,400.8 L605.5,401.0 L608.7,401.4 L611.8,401.7 L615.0,402.2 L618.2,402.7 L621.3,403.2 L624.5,403.7 L627.6,404.3 L630.8,405.0 L634.0,405.6 L637.1,406.3 L640.3,407.0 L643.4,407.7 L646.6,408.5 L649.8,409.3 L652.9,410.0 L656.1,410.8 L659.2,411.7 L662.4,412.5 L665.5,413.3 L668.7,414.2 L671.9,415.0 L675.0,415.9 L678.2,416.7 L681.3,417.6 L684.5,418.5 L687.7,419.3 L690.8,420.2 L694.0,421.1 L697.1,422.0 L700.3,422.8 L703.4,423.7 L706.6,424.6 L709.8,425.5 L712.9,426.3 L716.1,427.2 L719.2,428.1 L722.4,428.9 L725.6,429.8 L728.7,430.7 L731.9,431.5 L735.0,432.4 L738.2,433.2 L741.4,434.1 L744.5,434.9 L747.7,435.8 L750.8,436.6 L754.0,437.5 L757.1,438.3 L760.3,439.1 L763.5,439.9 L766.6,440.8 L769.8,441.6 L772.9,442.4 L776.1,443.2"/>
<path d="M337.0,288.8 L340.2,297.5 L343.4,307.0 L346.5,317.4 L349.7,328.3 L352.8,339.7 L356.0,351.1 L359.1,362.2 L362.3,372.8 L365.5,382.7 L368.6,391.6 L371.8,399.5 L374.9,406.4 L378.1,412.3 L381.3,417.4 L384.4,421.6 L387.6,425.2 L390.7,428.2 L393.9,430.8 L397.1,432.9 L400.2,434.7 L403.4,436.2 L406.5,437.6 L409.7,438.7 L412.8,439.7 L416.0,440.5 L419.2,441.3 L422.3,441.9 L425.5,442.4 L428.6,442.9 L431.8,443.3 L435.0,443.6 L438.1,443.8 L441.3,444.0 L444.4,444.1 L447.6,444.1 L450.7,444.0 L453.9,443.8 L457.1,443.6 L460.2,443.3 L463.4,442.9 L466.5,442.4 L469.7,441.9 L472.9,441.2 L476.0,440.5 L479.2,439.7 L482.3,438.7 L485.5,437.7 L488.7,436.7 L491.8,435.5 L495.0,434.3 L498.1,432.9 L501.3,431.6 L504.4,430.1 L507.6,428.6 L510.8,427.1 L513.9,425.5 L517.1,424.0 L520.2,422.4 L523.4,420.8 L526.6,419.2 L529.7,417.6 L532.9,416.1 L536.0,414.7 L539.2,413.2 L542.4,411.9 L545.5,410.6 L548.7,409.4 L551.8,408.4 L555.0,407.4 L558.1,406.6 L561.3,405.8 L564.5,405.2 L567.6,404.7 L570.8,404.2 L573.9,403.9 L577.1,403.6 L580.3,403.5 L583.4,403.5 L586.6,403.5 L589.7,403.6 L592.9,403.8 L596.1,404.1 L599.2,404.5 L602.4,404.9 L605.5,405.4 L608.7,406.0 L611.8,406.6 L615.0,407.2 L618.2,407.9 L621.3,408.7 L624.5,409.5 L627.6,410.3 L630.8,411.1 L634.0,412.0 L637.1,412.9 L640.3,413.9 L643.4,414.8 L646.6,415.8 L649.8,416.8 L652.9,417.8 L656.1,418.8 L659.2,419.8 L662.4,420.8 L665.5,421.9 L668.7,422.9 L671.9,424.0 L675.0,425.0 L678.2,426.1 L681.3,427.1 L684.5,428.2 L687.7,429.2 L690.8,430.3 L694.0,431.4 L697.1,432.4 L700.3,433.5 L703.4,434.5 L706.6,435.6 L709.8,436.6 L712.9,437.6 L716.1,438.7 L719.2,439.7 L722.4,440.7 L725.6,441.8 L728.7,442.8 L731.9,443.8 L735.0,444.8 L738.2,445.8 L741.4,446.8 L744.5,447.8 L747.7,448.8 L750.8,449.7 L754.0,450.7 L757.1,451.7 L760.3,452.6 L763.5,453.6 L766.6,454.5 L769.8,455.5 L772.9,456.4 L776.1,457.4"/>
<path d="M337.0,289.5 L340.2,298.1 L343.4,307.6 L346.5,318.0 L349.7,328.9 L352.8,340.2 L356.0,351.6 L359.1,362.7 L362.3,373.3 L365.5,383.2 L368.6,392.1 L371.8,400.0 L374.9,406.9 L378.1,412.8 L381.3,417.8 L384.4,422.1 L387.6,425.6 L390.7,428.7 L393.9,431.2 L397.1,433.3 L400.2,435.2 L403.4,436.7 L406.5,438.0 L409.7,439.2 L412.8,440.2 L416.0,441.0 L419.2,441.8 L422.3,442.4 L425.5,443.0 L428.6,443.5 L431.8,443.9 L435.0,444.2 L438.1,444.5 L441.3,444.7 L444.4,444.8 L447.6,444.8 L450.7,444.8 L453.9,444.7 L457.1,444.5 L460.2,444.2 L463.4,443.9 L466.5,443.5 L469.7,443.0 L472.9,442.4 L476.0,441.7 L479.2,440.9 L482.3,440.0 L485.5,439.1 L488.7,438.1 L491.8,437.0 L495.0,435.8 L498.1,434.5 L501.3,433.2 L504.4,431.8 L507.6,430.4 L510.8,428.9 L513.9,427.4 L517.1,425.9 L520.2,424.3 L523.4,422.8 L526.6,421.2 L529.7,419.7 L532.9,418.2 L536.0,416.8 L539.2,415.4 L542.4,414.0 L545.5,412.7 L548.7,411.5 L551.8,410.4 L555.0,409.4 L558.1,408.5 L561.3,407.6 L564.5,406.9 L567.6,406.2 L570.8,405.7 L573.9,405.3 L577.1,404.9 L580.3,404.7 L583.4,404.5 L586.6,404.5 L589.7,404.5 L592.9,404.6 L596.1,404.8 L599.2,405.0 L602.4,405.4 L605.5,405.8 L608.7,406.2 L611.8,406.7 L615.0,407.3 L618.2,407.9 L621.3,408.5 L624.5,409.2 L627.6,410.0 L630.8,410.7 L634.0,411.5 L637.1,412.4 L640.3,413.2 L643.4,414.1 L646.6,415.0 L649.8,415.9 L652.9,416.8 L656.1,417.7 L659.2,418.7 L662.4,419.6 L665.5,420.6 L668.7,421.6 L671.9,422.6 L675.0,423.5 L678.2,424.5 L681.3,425.5 L684.5,426.5 L687.7,427.5 L690.8,428.5 L694.0,429.5 L697.1,430.5 L700.3,431.5 L703.4,432.5 L706.6,433.5 L709.8,434.5 L712.9,435.5 L716.1,436.5 L719.2,437.4 L722.4,438.4 L725.6,439.4 L728.7,440.4 L731.9,441.3 L735.0,442.3 L738.2,443.2 L741.4,444.2 L744.5,445.1 L747.7,446.1 L750.8,447.0 L754.0,447.9 L757.1,448.9 L760.3,449.8 L763.5,450.7 L766.6,451.6 L769.8,452.5 L772.9,453.4 L776.1,454.3"/>
<path d="M337.0,289.0 L340.2,297.7 L343.4,307.2 L346.5,317.5 L349.7,328.5 L352.8,339.8 L356.0,351.2 L359.1,362.3 L362.3,373.0 L365.5,382.8 L368.6,391.7 L371.8,399.6 L374.9,406.5 L378.1,412.4 L381.3,417.4 L384.4,421.7 L387.6,425.3 L390.7,428.3 L393.9,430.8 L397.1,433.0 L400.2,434.8 L403.4,436.3 L406.5,437.6 L409.7,438.8 L412.8,439.8 L416.0,440.6 L419.2,441.4 L422.3,442.0 L425.5,442.6 L428.6,443.1 L431.8,443.5 L435.0,443.8 L438.1,444.1 L441.3,444.3 L444.4,444.4 L447.6,444.4 L450.7,444.4 L453.9,444.3 L457.1,444.2 L460.2,443.9 L463.4,443.6 L466.5,443.2 L469.7,442.7 L472.9,442.2 L476.0,441.5 L479.2,440.8 L482.3,440.0 L485.5,439.1 L488.7,438.2 L491.8,437.2 L495.0,436.0 L498.1,434.9 L501.3,433.6 L504.4,432.3 L507.6,431.0 L510.8,429.6 L513.9,428.1 L517.1,426.7 L520.2,425.2 L523.4,423.7 L526.6,422.2 L529.7,420.8 L532.9,419.3 L536.0,417.9 L539.2,416.5 L542.4,415.2 L545.5,414.0 L548.7,412.8 L551.8,411.6 L555.0,410.6 L558.1,409.6 L561.3,408.8 L564.5,408.0 L567.6,407.3 L570.8,406.7 L573.9,406.2 L577.1,405.8 L580.3,405.5 L583.4,405.3 L586.6,405.1 L589.7,405.1 L592.9,405.1 L596.1,405.2 L599.2,405.4 L602.4,405.7 L605.5,406.0 L608.7,406.4 L611.8,406.8 L615.0,407.3 L618.2,407.9 L621.3,408.5 L624.5,409.1 L627.6,409.8 L630.8,410.5 L634.0,411.3 L637.1,412.0 L640.3,412.8 L643.4,413.7 L646.6,414.5 L649.8,415.4 L652.9,416.3 L656.1,417.2 L659.2,418.1 L662.4,419.1 L665.5,420.0 L668.7,421.0 L671.9,421.9 L675.0,422.9 L678.2,423.9 L681.3,424.9 L684.5,425.8 L687.7,426.8 L690.8,427.8 L694.0,428.8 L697.1,429.8 L700.3,430.8 L703.4,431.8 L706.6,432.7 L709.8,433.7 L712.9,434.7 L716.1,435.7 L719.2,436.7 L722.4,437.6 L725.6,438.6 L728.7,439.6 L731.9,440.5 L735.0,441.5 L738.2,442.5 L741.4,443.4 L744.5,444.4 L747.7,445.3 L750.8,446.2 L754.0,447.2 L757.1,448.1 L760.3,449.0 L763.5,449.9 L766.6,450.8 L769.8,451.7 L772.9,452.6 L776.1,453.5"/>
<path d="M337.0,288.5 L340.2,297.2 L343.4,306.7 L346.5,317.1 L349.7,328.1 L352.8,339.4 L356.0,350.8 L359.1,362.0 L362.3,372.7 L365.5,382.5 L368.6,391.5 L371.8,399.4 L374.9,406.3 L378.1,412.3 L381.3,417.3 L384.4,421.6 L387.6,425.2 L390.7,428.2 L393.9,430.8 L397.1,432.9 L400.2,434.8 L403.4,436.3 L406.5,437.7 L409.7,438.9 L412.8,439.9 L416.0,440.7 L419.2,441.5 L422.3,442.2 L425.5,442.8 L428.6,443.3 L431.8,443.7 L435.0,444.1 L438.1,444.3 L441.3,444.6 L444.4,444.7 L447.6,444.8 L450.7,444.8 L453.9,444.7 L457.1,444.5 L460.2,444.3 L463.4,444.0 L466.5,443.6 L469.7,443.1 L472.9,442.5 L476.0,441.9 L479.2,441.1 L482.3,440.3 L485.5,439.4 L488.7,438.4 L491.8,437.3 L495.0,436.1 L498.1,434.8 L501.3,433.5 L504.4,432.1 L507.6,430.7 L510.8,429.2 L513.9,427.7 L517.1,426.1 L520.2,424.5 L523.4,422.9 L526.6,421.3 L529.7,419.7 L532.9,418.2 L536.0,416.7 L539.2,415.2 L542.4,413.8 L545.5,412.4 L548.7,411.1 L551.8,409.8 L555.0,408.6 L558.1,407.4 L561.3,406.4 L564.5,405.4 L567.6,404.6 L570.8,403.9 L573.9,403.2 L577.1,402.7 L580.3,402.2 L583.4,401.9 L586.6,401.7 L589.7,401.5 L592.9,401.4 L596.1,401.4 L599.2,401.5 L602.4,401.7 L605.5,401.9 L608.7,402.2 L611.8,402.6 L615.0,403.0 L618.2,403.5 L621.3,404.0 L624.5,404.6 L627.6,405.2 L630.8,405.8 L634.0,406.5 L637.1,407.2 L640.3,408.0 L643.4,408.8 L646.6,409.5 L649.8,410.4 L652.9,411.2 L656.1,412.0 L659.2,412.9 L662.4,413.8 L665.5,414.7 L668.7,415.5 L671.9,416.5 L675.0,417.4 L678.2,418.3 L681.3,419.2 L684.5,420.1 L687.7,421.1 L690.8,422.0 L694.0,422.9 L697.1,423.8 L700.3,424.8 L703.4,425.7 L706.6,426.6 L709.8,427.6 L712.9,428.5 L716.1,429.4 L719.2,430.4 L722.4,431.3 L725.6,432.2 L728.7,433.1 L731.9,434.0 L735.0,435.0 L738.2,435.9 L741.4,436.8 L744.5,437.7 L747.7,438.6 L750.8,439.5 L754.0,440.3 L757.1,441.2 L760.3,442.1 L763.5,443.0 L766.6,443.8 L769.8,444.7 L772.9,445.6 L776.1,446.4"/>
<path d="M337.0,290.0 L340.2,298.6 L343.4,308.1 L346.5,318.4 L349.7,329.3 L352.8,340.5 L356.0,351.9 L359.1,363.0 L362.3,373.5 L365.5,383.3 L368.6,392.2 L371.8,400.1 L374.9,406.9 L378.1,412.8 L381.3,417.8 L384.4,422.0 L387.6,425.6 L390.7,428.5 L393.9,431.0 L397.1,433.2 L400.2,434.9 L403.4,436.4 L406.5,437.7 L409.7,438.8 L412.8,439.8 L416.0,440.6 L419.2,441.3 L422.3,441.9 L425.5,442.5 L428.6,442.9 L431.8,443.3 L435.0,443.5 L438.1,443.8 L441.3,443.9 L444.4,444.0 L447.6,444.0 L450.7,443.9 L453.9,443.8 L457.1,443.6 L460.2,443.3 L463.4,442.9 L466.5,442.5 L469.7,441.9 L472.9,441.3 L476.0,440.7 L479.2,439.9 L482.3,439.1 L485.5,438.2 L488.7,437.2 L491.8,436.1 L495.0,435.0 L498.1,433.8 L501.3,432.6 L504.4,431.3 L507.6,430.0 L510.8,428.6 L513.9,427.2 L517.1,425.8 L520.2,424.4 L523.4,423.0 L526.6,421.6 L529.7,420.2 L532.9,418.9 L536.0,417.6 L539.2,416.3 L542.4,415.1 L545.5,414.0 L548.7,412.9 L551.8,411.9 L555.0,410.9 L558.1,410.0 L561.3,409.3 L564.5,408.6 L567.6,408.0 L570.8,407.5 L573.9,407.0 L577.1,406.7 L580.3,406.5 L583.4,406.3 L586.6,406.2 L589.7,406.2 L592.9,406.3 L596.1,406.5 L599.2,406.7 L602.4,407.0 L605.5,407.3 L608.7,407.8 L611.8,408.2 L615.0,408.7 L618.2,409.3 L621.3,409.9 L624.5,410.5 L627.6,411.2 L630.8,411.9 L634.0,412.7 L637.1,413.4 L640.3,414.2 L643.4,415.1 L646.6,415.9 L649.8,416.8 L652.9,417.6 L656.1,418.5 L659.2,419.4 L662.4,420.3 L665.5,421.3 L668.7,422.2 L671.9,423.1 L675.0,424.1 L678.2,425.0 L681.3,426.0 L684.5,426.9 L687.7,427.9 L690.8,428.9 L694.0,429.8 L697.1,430.8 L700.3,431.7 L703.4,432.7 L706.6,433.7 L709.8,434.6 L712.9,435.6 L716.1,436.5 L719.2,437.5 L722.4,438.4 L725.6,439.4 L728.7,440.3 L731.9,441.3 L735.0,442.2 L738.2,443.1 L741.4,444.1 L744.5,445.0 L747.7,445.9 L750.8,446.8 L754.0,447.7 L757.1,448.6 L760.3,449.5 L763.5,450.4 L766.6,451.3 L769.8,452.2 L772.9,453.1 L776.1,453.9"/>
<path d="M337.0,288.4 L340.2,297.0 L343.4,306.5 L346.5,316.8 L349.7,327.8 L352.8,339.1 L356.0,350.5 L359.1,361.6 L362.3,372.2 L365.5,382.1 L368.6,391.0 L371.8,398.9 L374.9,405.7 L378.1,411.6 L381.3,416.7 L384.4,420.9 L387.6,424.4 L390.7,427.4 L393.9,429.9 L397.1,432.0 L400.2,433.7 L403.4,435.2 L406.5,436.5 L409.7,437.6 L412.8,438.5 L416.0,439.3 L419.2,440.0 L422.3,440.5 L425.5,441.0 L428.6,441.4 L431.8,441.7 L435.0,441.9 L438.1,442.1 L441.3,442.2 L444.4,442.2 L447.6,442.1 L450.7,442.0 L453.9,441.8 L457.1,441.5 L460.2,441.1 L463.4,440.6 L466.5,440.1 L469.7,439.5 L472.9,438.8 L476.0,438.0 L479.2,437.2 L482.3,436.2 L485.5,435.2 L488.7,434.1 L491.8,433.0 L495.0,431.8 L498.1,430.5 L501.3,429.2 L504.4,427.8 L507.6,426.4 L510.8,424.9 L513.9,423.5 L517.1,422.0 L520.2,420.5 L523.4,419.0 L526.6,417.6 L529.7,416.1 L532.9,414.8 L536.0,413.4 L539.2,412.1 L542.4,410.9 L545.5,409.7 L548.7,408.6 L551.8,407.7 L555.0,406.9 L558.1,406.1 L561.3,405.5 L564.5,404.9 L567.6,404.5 L570.8,404.1 L573.9,403.8 L577.1,403.6 L580.3,403.5 L583.4,403.5 L586.6,403.6 L589.7,403.7 L592.9,403.9 L596.1,404.2 L599.2,404.6 L602.4,405.0 L605.5,405.5 L608.7,406.1 L611.8,406.7 L615.0,407.3 L618.2,408.0 L621.3,408.8 L624.5,409.5 L627.6,410.3 L630.8,411.2 L634.0,412.1 L637.1,412.9 L640.3,413.9 L643.4,414.8 L646.6,415.8 L649.8,416.7 L652.9,417.7 L656.1,418.7 L659.2,419.7 L662.4,420.8 L665.5,421.8 L668.7,422.8 L671.9,423.9 L675.0,424.9 L678.2,426.0 L681.3,427.0 L684.5,428.1 L687.7,429.2 L690.8,430.2 L694.0,431.3 L697.1,432.3 L700.3,433.4 L703.4,434.4 L706.6,435.5 L709.8,436.5 L712.9,437.6 L716.1,438.6 L719.2,439.6 L722.4,440.7 L725.6,441.7 L728.7,442.7 L731.9,443.7 L735.0,444.8 L738.2,445.8 L741.4,446.8 L744.5,447.8 L747.7,448.8 L750.8,449.7 L754.0,450.7 L757.1,451.7 L760.3,452.7 L763.5,453.6 L766.6,454.6 L769.8,455.5 L772.9,456.5 L776.1,457.4"/>
<path d="M337.0,288.8 L340.2,297.4 L343.4,307.0 L346.5,317.3 L349.7,328.3 L352.8,339.6 L356.0,351.1 L359.1,362.2 L362.3,372.9 L365.5,382.7 L368.6,391.7 L371.8,399.6 L374.9,406.5 L378.1,412.4 L381.3,417.5 L384.4,421.7 L387.6,425.3 L390.7,428.3 L393.9,430.9 L397.1,433.0 L400.2,434.9 L403.4,436.4 L406.5,437.8 L409.7,438.9 L412.8,439.9 L416.0,440.8 L419.2,441.6 L422.3,442.2 L425.5,442.8 L428.6,443.3 L431.8,443.7 L435.0,444.0 L438.1,444.3 L441.3,444.5 L444.4,444.6 L447.6,444.6 L450.7,444.6 L453.9,444.5 L457.1,444.3 L460.2,444.0 L463.4,443.7 L466.5,443.3 L469.7,442.7 L472.9,442.1 L476.0,441.4 L479.2,440.6 L482.3,439.8 L485.5,438.8 L488.7,437.8 L491.8,436.6 L495.0,435.4 L498.1,434.1 L501.3,432.8 L504.4,431.3 L507.6,429.9 L510.8,428.3 L513.9,426.8 L517.1,425.2 L520.2,423.6 L523.4,422.0 L526.6,420.4 L529.7,418.8 L532.9,417.2 L536.0,415.7 L539.2,414.3 L542.4,412.9 L545.5,411.5 L548.7,410.3 L551.8,409.1 L555.0,408.0 L558.1,407.0 L561.3,406.1 L564.5,405.3 L567.6,404.6 L570.8,404.0 L573.9,403.5 L577.1,403.1 L580.3,402.8 L583.4,402.7 L586.6,402.6 L589.7,402.5 L592.9,402.6 L596.1,402.8 L599.2,403.0 L602.4,403.3 L605.5,403.7 L608.7,404.1 L611.8,404.6 L615.0,405.1 L618.2,405.7 L621.3,406.4 L624.5,407.0 L627.6,407.8 L630.8,408.5 L634.0,409.3 L637.1,410.1 L640.3,411.0 L643.4,411.8 L646.6,412.7 L649.8,413.6 L652.9,414.5 L656.1,415.4 L659.2,416.4 L662.4,417.3 L665.5,418.3 L668.7,419.3 L671.9,420.2 L675.0,421.2 L678.2,422.2 L681.3,423.2 L684.5,424.2 L687.7,425.2 L690.8,426.2 L694.0,427.2 L697.1,428.2 L700.3,429.2 L703.4,430.2 L706.6,431.1 L709.8,432.1 L712.9,433.1 L716.1,434.1 L719.2,435.1 L722.4,436.0 L725.6,437.0 L728.7,438.0 L731.9,438.9 L735.0,439.9 L738.2,440.9 L741.4,441.8 L744.5,442.8 L747.7,443.7 L750.8,444.6 L754.0,445.6 L757.1,446.5 L760.3,447.4 L763.5,448.3 L766.6,449.2 L769.8,450.1 L772.9,451.0 L776.1,451.9"/>
<path d="M337.0,289.1 L340.2,297.8 L343.4,307.3 L346.5,317.6 L349.7,328.5 L352.8,339.8 L356.0,351.2 L359.1,362.4 L362.3,373.0 L365.5,382.8 L368.6,391.7 L371.8,399.6 L374.9,406.5 L378.1,412.4 L381.3,417.4 L384.4,421.7 L387.6,425.3 L390.7,428.3 L393.9,430.8 L397.1,432.9 L400.2,434.7 L403.4,436.3 L406.5,437.6 L409.7,438.7 L412.8,439.7 L416.0,440.5 L419.2,441.3 L422.3,441.9 L425.5,442.5 L428.6,443.0 L431.8,443.4 L435.0,443.7 L438.1,443.9 L441.3,444.1 L444.4,444.2 L447.6,444.3 L450.7,444.3 L453.9,444.2 L457.1,444.0 L460.2,443.7 L463.4,443.4 L466.5,443.0 L469.7,442.5 L472.9,442.0 L476.0,441.4 L479.2,440.6 L482.3,439.8 L485.5,439.0 L488.7,438.0 L491.8,437.0 L495.0,435.9 L498.1,434.7 L501.3,433.5 L504.4,432.2 L507.6,430.9 L510.8,429.5 L513.9,428.1 L517.1,426.6 L520.2,425.2 L523.4,423.7 L526.6,422.3 L529.7,420.8 L532.9,419.4 L536.0,418.0 L539.2,416.7 L542.4,415.4 L545.5,414.1 L548.7,413.0 L551.8,411.7 L555.0,410.6 L558.1,409.5 L561.3,408.6 L564.5,407.7 L567.6,406.9 L570.8,406.2 L573.9,405.6 L577.1,405.0 L580.3,404.6 L583.4,404.3 L586.6,404.0 L589.7,403.9 L592.9,403.8 L596.1,403.8 L599.2,403.8 L602.4,404.0 L605.5,404.2 L608.7,404.4 L611.8,404.8 L615.0,405.1 L618.2,405.6 L621.3,406.1 L624.5,406.6 L627.6,407.2 L630.8,407.8 L634.0,408.4 L637.1,409.1 L640.3,409.8 L643.4,410.5 L646.6,411.2 L649.8,412.0 L652.9,412.8 L656.1,413.6 L659.2,414.4 L662.4,415.3 L665.5,416.1 L668.7,417.0 L671.9,417.9 L675.0,418.7 L678.2,419.6 L681.3,420.5 L684.5,421.4 L687.7,422.3 L690.8,423.2 L694.0,424.1 L697.1,425.0 L700.3,425.9 L703.4,426.8 L706.6,427.8 L709.8,428.7 L712.9,429.6 L716.1,430.5 L719.2,431.4 L722.4,432.3 L725.6,433.2 L728.7,434.1 L731.9,435.0 L735.0,435.9 L738.2,436.8 L741.4,437.7 L744.5,438.5 L747.7,439.4 L750.8,440.3 L754.0,441.2 L757.1,442.0 L760.3,442.9 L763.5,443.8 L766.6,444.6 L769.8,445.5 L772.9,446.3 L776.1,447.2"/>
<path d="M337.0,289.3 L340.2,297.9 L343.4,307.4 L346.5,317.7 L349.7,328.6 L352.8,339.9 L356.0,351.3 L359.1,362.4 L362.3,373.0 L365.5,382.8 L368.6,391.7 L371.8,399.6 L374.9,406.5 L378.1,412.4 L381.3,417.4 L384.4,421.6 L387.6,425.2 L390.7,428.2 L393.9,430.7 L397.1,432.8 L400.2,434.6 L403.4,436.1 L406.5,437.4 L409.7,438.5 L412.8,439.4 L416.0,440.2 L419.2,440.9 L422.3,441.5 L425.5,442.0 L428.6,442.5 L431.8,442.8 L435.0,443.1 L438.1,443.3 L441.3,443.4 L444.4,443.5 L447.6,443.4 L450.7,443.3 L453.9,443.2 L457.1,442.9 L460.2,442.6 L463.4,442.2 L466.5,441.7 L469.7,441.1 L472.9,440.5 L476.0,439.8 L479.2,438.9 L482.3,438.1 L485.5,437.1 L488.7,436.0 L491.8,434.9 L495.0,433.7 L498.1,432.5 L501.3,431.2 L504.4,429.8 L507.6,428.4 L510.8,427.0 L513.9,425.5 L517.1,424.1 L520.2,422.6 L523.4,421.1 L526.6,419.6 L529.7,418.2 L532.9,416.8 L536.0,415.4 L539.2,414.1 L542.4,412.9 L545.5,411.7 L548.7,410.6 L551.8,409.6 L555.0,408.6 L558.1,407.8 L561.3,407.0 L564.5,406.4 L567.6,405.8 L570.8,405.3 L573.9,405.0 L577.1,404.7 L580.3,404.5 L583.4,404.4 L586.6,404.3 L589.7,404.4 L592.9,404.5 L596.1,404.7 L599.2,405.0 L602.4,405.3 L605.5,405.7 L608.7,406.2 L611.8,406.7 L615.0,407.3 L618.2,407.9 L621.3,408.5 L624.5,409.2 L627.6,410.0 L630.8,410.7 L634.0,411.5 L637.1,412.3 L640.3,413.2 L643.4,414.0 L646.6,414.9 L649.8,415.8 L652.9,416.8 L656.1,417.7 L659.2,418.6 L662.4,419.6 L665.5,420.5 L668.7,421.5 L671.9,422.5 L675.0,423.5 L678.2,424.5 L681.3,425.4 L684.5,426.4 L687.7,427.4 L690.8,428.4 L694.0,429.4 L697.1,430.4 L700.3,431.4 L703.4,432.4 L706.6,433.4 L709.8,434.4 L712.9,435.4 L716.1,436.3 L719.2,437.3 L722.4,438.3 L725.6,439.3 L728.7,440.2 L731.9,441.2 L735.0,442.2 L738.2,443.1 L741.4,444.1 L744.5,445.0 L747.7,445.9 L750.8,446.9 L754.0,447.8 L757.1,448.7 L760.3,449.7 L763.5,450.6 L766.6,451.5 L769.8,452.4 L772.9,453.3 L776.1,454.2"/>
<path d="M337.0,289.9 L340.2,298.5 L343.4,308.1 L346.5,318.4 L349.7,329.4 L352.8,340.7 L356.0,352.1 L359.1,363.2 L362.3,373.8 L365.5,383.7 L368.6,392.6 L371.8,400.5 L374.9,407.4 L378.1,413.3 L381.3,418.4 L384.4,422.6 L387.6,426.2 L390.7,429.3 L393.9,431.8 L397.1,434.0 L400.2,435.8 L403.4,437.4 L406.5,438.8 L409.7,440.0 L412.8,441.0 L416.0,441.9 L419.2,442.7 L422.3,443.4 L425.5,444.0 L428.6,444.5 L431.8,444.9 L435.0,445.3 L438.1,445.6 L441.3,445.8 L444.4,446.0 L447.6,446.1 L450.7,446.1 L453.9,446.0 L457.1,445.8 L460.2,445.6 L463.4,445.2 L466.5,444.8 L469.7,444.3 L472.9,443.6 L476.0,442.9 L479.2,442.1 L482.3,441.2 L485.5,440.2 L488.7,439.1 L491.8,438.0 L495.0,436.7 L498.1,435.3 L501.3,433.9 L504.4,432.4 L507.6,430.8 L510.8,429.2 L513.9,427.6 L517.1,425.9 L520.2,424.2 L523.4,422.5 L526.6,420.8 L529.7,419.2 L532.9,417.6 L536.0,416.0 L539.2,414.5 L542.4,413.0 L545.5,411.7 L548.7,410.4 L551.8,409.2 L555.0,408.0 L558.1,407.0 L561.3,406.1 L564.5,405.3 L567.6,404.6 L570.8,404.0 L573.9,403.5 L577.1,403.2 L580.3,402.9 L583.4,402.7 L586.6,402.7 L589.7,402.7 L592.9,402.8 L596.1,403.0 L599.2,403.2 L602.4,403.6 L605.5,404.0 L608.7,404.4 L611.8,405.0 L615.0,405.5 L618.2,406.1 L621.3,406.8 L624.5,407.5 L627.6,408.2 L630.8,409.0 L634.0,409.8 L637.1,410.6 L640.3,411.5 L643.4,412.3 L646.6,413.2 L649.8,414.1 L652.9,415.0 L656.1,415.9 L659.2,416.9 L662.4,417.8 L665.5,418.7 L668.7,419.7 L671.9,420.7 L675.0,421.6 L678.2,422.6 L681.3,423.5 L684.5,424.5 L687.7,425.5 L690.8,426.5 L694.0,427.4 L697.1,428.4 L700.3,429.4 L703.4,430.3 L706.6,431.3 L709.8,432.2 L712.9,433.2 L716.1,434.1 L719.2,435.1 L722.4,436.0 L725.6,437.0 L728.7,437.9 L731.9,438.9 L735.0,439.8 L738.2,440.7 L741.4,441.6 L744.5,442.5 L747.7,443.4 L750.8,444.4 L754.0,445.3 L757.1,446.1 L760.3,447.0 L763.5,447.9 L766.6,448.8 L769.8,449.7 L772.9,450.5 L776.1,451.4"/>
<path d="M337.0,290.8 L340.2,299.4 L343.4,308.9 L346.5,319.2 L349.7,330.1 L352.8,341.4 L356.0,352.7 L359.1,363.8 L362.3,374.4 L365.5,384.2 L368.6,393.1 L371.8,400.9 L374.9,407.8 L378.1,413.7 L381.3,418.7 L384.4,423.0 L387.6,426.5 L390.7,429.6 L393.9,432.1 L397.1,434.2 L400.2,436.1 L403.4,437.6 L406.5,439.0 L409.7,440.1 L412.8,441.1 L416.0,442.0 L419.2,442.8 L422.3,443.5 L425.5,444.1 L428.6,444.6 L431.8,445.0 L435.0,445.3 L438.1,445.6 L441.3,445.8 L444.4,445.9 L447.6,446.0 L450.7,446.0 L453.9,445.9 L457.1,445.7 L460.2,445.5 L463.4,445.2 L466.5,444.7 L469.7,444.2 L472.9,443.6 L476.0,443.0 L479.2,442.2 L482.3,441.3 L485.5,440.4 L488.7,439.3 L491.8,438.2 L495.0,437.0 L498.1,435.8 L501.3,434.4 L504.4,433.0 L507.6,431.6 L510.8,430.1 L513.9,428.5 L517.1,427.0 L520.2,425.4 L523.4,423.8 L526.6,422.3 L529.7,420.8 L532.9,419.3 L536.0,417.8 L539.2,416.4 L542.4,415.1 L545.5,413.8 L548.7,412.7 L551.8,411.7 L555.0,410.8 L558.1,410.0 L561.3,409.3 L564.5,408.7 L567.6,408.2 L570.8,407.8 L573.9,407.5 L577.1,407.3 L580.3,407.2 L583.4,407.2 L586.6,407.3 L589.7,407.4 L592.9,407.7 L596.1,408.0 L599.2,408.4 L602.4,408.9 L605.5,409.4 L608.7,410.0 L611.8,410.6 L615.0,411.3 L618.2,412.1 L621.3,412.8 L624.5,413.6 L627.6,414.5 L630.8,415.3 L634.0,416.2 L637.1,417.2 L640.3,418.1 L643.4,419.1 L646.6,420.0 L649.8,421.0 L652.9,422.0 L656.1,423.0 L659.2,424.1 L662.4,425.1 L665.5,426.1 L668.7,427.2 L671.9,428.2 L675.0,429.3 L678.2,430.3 L681.3,431.4 L684.5,432.4 L687.7,433.5 L690.8,434.5 L694.0,435.5 L697.1,436.6 L700.3,437.6 L703.4,438.7 L706.6,439.7 L709.8,440.7 L712.9,441.8 L716.1,442.8 L719.2,443.8 L722.4,444.8 L725.6,445.8 L728.7,446.8 L731.9,447.8 L735.0,448.8 L738.2,449.8 L741.4,450.8 L744.5,451.7 L747.7,452.7 L750.8,453.7 L754.0,454.6 L757.1,455.6 L760.3,456.5 L763.5,457.5 L766.6,458.4 L769.8,459.3 L772.9,460.2 L776.1,461.1"/>
<path d="M337.0,290.0 L340.2,298.6 L343.4,308.1 L346.5,318.4 L349.7,329.3 L352.8,340.6 L356.0,351.9 L359.1,363.0 L362.3,373.6 L365.5,383.4 L368.6,392.2 L371.8,400.1 L374.9,406.9 L378.1,412.8 L381.3,417.8 L384.4,422.1 L387.6,425.6 L390.7,428.6 L393.9,431.1 L397.1,433.2 L400.2,435.0 L403.4,436.5 L406.5,437.8 L409.7,438.9 L412.8,439.9 L416.0,440.7 L419.2,441.4 L422.3,442.1 L425.5,442.6 L428.6,443.0 L431.8,443.4 L435.0,443.7 L438.1,444.0 L441.3,444.1 L444.4,444.2 L447.6,444.3 L450.7,444.2 L453.9,444.1 L457.1,443.9 L460.2,443.7 L463.4,443.3 L466.5,442.9 L469.7,442.5 L472.9,441.9 L476.0,441.3 L479.2,440.6 L482.3,439.8 L485.5,438.9 L488.7,438.0 L491.8,437.0 L495.0,435.9 L498.1,434.8 L501.3,433.6 L504.4,432.4 L507.6,431.1 L510.8,429.8 L513.9,428.4 L517.1,427.1 L520.2,425.7 L523.4,424.3 L526.6,422.9 L529.7,421.6 L532.9,420.2 L536.0,418.9 L539.2,417.7 L542.4,416.5 L545.5,415.3 L548.7,414.3 L551.8,413.3 L555.0,412.3 L558.1,411.5 L561.3,410.8 L564.5,410.1 L567.6,409.5 L570.8,409.0 L573.9,408.6 L577.1,408.3 L580.3,408.1 L583.4,407.9 L586.6,407.9 L589.7,407.9 L592.9,408.0 L596.1,408.1 L599.2,408.4 L602.4,408.7 L605.5,409.0 L608.7,409.5 L611.8,409.9 L615.0,410.5 L618.2,411.0 L621.3,411.7 L624.5,412.3 L627.6,413.0 L630.8,413.8 L634.0,414.5 L637.1,415.3 L640.3,416.1 L643.4,417.0 L646.6,417.8 L649.8,418.7 L652.9,419.6 L656.1,420.5 L659.2,421.5 L662.4,422.4 L665.5,423.3 L668.7,424.3 L671.9,425.3 L675.0,426.2 L678.2,427.2 L681.3,428.2 L684.5,429.2 L687.7,430.2 L690.8,431.2 L694.0,432.1 L697.1,433.1 L700.3,434.1 L703.4,435.1 L706.6,436.1 L709.8,437.1 L712.9,438.1 L716.1,439.0 L719.2,440.0 L722.4,441.0 L725.6,442.0 L728.7,442.9 L731.9,443.9 L735.0,444.9 L738.2,445.8 L741.4,446.8 L744.5,447.7 L747.7,448.6 L750.8,449.6 L754.0,450.5 L757.1,451.4 L760.3,452.4 L763.5,453.3 L766.6,454.2 L769.8,455.1 L772.9,456.0 L776.1,456.9"/>
<path d="M337.0,288.7 L340.2,297.3 L343.4,306.8 L346.5,317.2 L349.7,328.1 L352.8,339.4 L356.0,350.7 L359.1,361.9 L362.3,372.5 L365.5,382.3 L368.6,391.2 L371.8,399.1 L374.9,405.9 L378.1,411.8 L381.3,416.8 L384.4,421.0 L387.6,424.6 L390.7,427.5 L393.9,430.0 L397.1,432.1 L400.2,433.9 L403.4,435.4 L406.5,436.6 L409.7,437.7 L412.8,438.7 L416.0,439.5 L419.2,440.1 L422.3,440.7 L425.5,441.2 L428.6,441.6 L431.8,441.9 L435.0,442.2 L438.1,442.3 L441.3,442.5 L444.4,442.5 L447.6,442.5 L450.7,442.3 L453.9,442.2 L457.1,441.9 L460.2,441.6 L463.4,441.2 L466.5,440.7 L469.7,440.2 L472.9,439.5 L476.0,438.8 L479.2,438.0 L482.3,437.2 L485.5,436.3 L488.7,435.3 L491.8,434.2 L495.0,433.1 L498.1,431.9 L501.3,430.6 L504.4,429.4 L507.6,428.0 L510.8,426.7 L513.9,425.3 L517.1,423.9 L520.2,422.5 L523.4,421.1 L526.6,419.7 L529.7,418.4 L532.9,417.0 L536.0,415.7 L539.2,414.5 L542.4,413.3 L545.5,412.1 L548.7,411.1 L551.8,410.0 L555.0,409.1 L558.1,408.2 L561.3,407.3 L564.5,406.6 L567.6,406.0 L570.8,405.4 L573.9,405.0 L577.1,404.6 L580.3,404.3 L583.4,404.1 L586.6,404.0 L589.7,403.9 L592.9,404.0 L596.1,404.1 L599.2,404.2 L602.4,404.5 L605.5,404.8 L608.7,405.1 L611.8,405.6 L615.0,406.0 L618.2,406.5 L621.3,407.1 L624.5,407.7 L627.6,408.3 L630.8,409.0 L634.0,409.7 L637.1,410.5 L640.3,411.2 L643.4,412.0 L646.6,412.8 L649.8,413.7 L652.9,414.5 L656.1,415.4 L659.2,416.2 L662.4,417.1 L665.5,418.0 L668.7,418.9 L671.9,419.9 L675.0,420.8 L678.2,421.7 L681.3,422.7 L684.5,423.6 L687.7,424.6 L690.8,425.5 L694.0,426.5 L697.1,427.4 L700.3,428.4 L703.4,429.3 L706.6,430.3 L709.8,431.2 L712.9,432.2 L716.1,433.1 L719.2,434.1 L722.4,435.0 L725.6,436.0 L728.7,436.9 L731.9,437.8 L735.0,438.8 L738.2,439.7 L741.4,440.6 L744.5,441.5 L747.7,442.5 L750.8,443.4 L754.0,444.3 L757.1,445.2 L760.3,446.1 L763.5,447.0 L766.6,447.9 L769.8,448.8 L772.9,449.6 L776.1,450.5"/>
<path d="M337.0,290.2 L340.2,298.8 L343.4,308.3 L346.5,318.6 L349.7,329.5 L352.8,340.8 L356.0,352.2 L359.1,363.3 L362.3,373.8 L365.5,383.7 L368.6,392.6 L371.8,400.4 L374.9,407.3 L378.1,413.2 L381.3,418.2 L384.4,422.5 L387.6,426.1 L390.7,429.1 L393.9,431.6 L397.1,433.8 L400.2,435.6 L403.4,437.1 L406.5,438.5 L409.7,439.6 L412.8,440.6 L416.0,441.5 L419.2,442.3 L422.3,442.9 L425.5,443.5 L428.6,444.0 L431.8,444.4 L435.0,444.8 L438.1,445.1 L441.3,445.3 L444.4,445.4 L447.6,445.5 L450.7,445.5 L453.9,445.4 L457.1,445.3 L460.2,445.1 L463.4,444.8 L466.5,444.4 L469.7,443.9 L472.9,443.4 L476.0,442.8 L479.2,442.1 L482.3,441.3 L485.5,440.4 L488.7,439.5 L491.8,438.4 L495.0,437.3 L498.1,436.1 L501.3,434.9 L504.4,433.6 L507.6,432.2 L510.8,430.8 L513.9,429.4 L517.1,427.9 L520.2,426.4 L523.4,424.9 L526.6,423.5 L529.7,422.0 L532.9,420.5 L536.0,419.1 L539.2,417.7 L542.4,416.4 L545.5,415.2 L548.7,414.0 L551.8,413.0 L555.0,412.0 L558.1,411.2 L561.3,410.4 L564.5,409.8 L567.6,409.2 L570.8,408.7 L573.9,408.4 L577.1,408.1 L580.3,407.9 L583.4,407.8 L586.6,407.8 L589.7,407.9 L592.9,408.1 L596.1,408.3 L599.2,408.6 L602.4,409.0 L605.5,409.4 L608.7,410.0 L611.8,410.5 L615.0,411.1 L618.2,411.8 L621.3,412.5 L624.5,413.2 L627.6,414.0 L630.8,414.8 L634.0,415.7 L637.1,416.6 L640.3,417.5 L643.4,418.4 L646.6,419.3 L649.8,420.3 L652.9,421.3 L656.1,422.2 L659.2,423.2 L662.4,424.2 L665.5,425.3 L668.7,426.3 L671.9,427.3 L675.0,428.3 L678.2,429.4 L681.3,430.4 L684.5,431.4 L687.7,432.5 L690.8,433.5 L694.0,434.6 L697.1,435.6 L700.3,436.6 L703.4,437.7 L706.6,438.7 L709.8,439.7 L712.9,440.8 L716.1,441.8 L719.2,442.8 L722.4,443.8 L725.6,444.8 L728.7,445.8 L731.9,446.8 L735.0,447.8 L738.2,448.8 L741.4,449.8 L744.5,450.7 L747.7,451.7 L750.8,452.7 L754.0,453.6 L757.1,454.6 L760.3,455.5 L763.5,456.5 L766.6,457.4 L769.8,458.4 L772.9,459.3 L776.1,460.2"/>
<path d="M337.0,287.3 L340.2,296.0 L343.4,305.5 L346.5,315.9 L349.7,326.9 L352.8,338.3 L356.0,349.7 L359.1,360.9 L362.3,371.6 L365.5,381.5 L368.6,390.4 L371.8,398.4 L374.9,405.3 L378.1,411.2 L381.3,416.3 L384.4,420.6 L387.6,424.1 L390.7,427.1 L393.9,429.7 L397.1,431.8 L400.2,433.6 L403.4,435.1 L406.5,436.4 L409.7,437.6 L412.8,438.5 L416.0,439.4 L419.2,440.1 L422.3,440.7 L425.5,441.2 L428.6,441.7 L431.8,442.1 L435.0,442.3 L438.1,442.6 L441.3,442.7 L444.4,442.8 L447.6,442.8 L450.7,442.7 L453.9,442.6 L457.1,442.3 L460.2,442.0 L463.4,441.7 L466.5,441.2 L469.7,440.7 L472.9,440.0 L476.0,439.3 L479.2,438.5 L482.3,437.7 L485.5,436.7 L488.7,435.7 L491.8,434.5 L495.0,433.4 L498.1,432.1 L501.3,430.8 L504.4,429.4 L507.6,428.0 L510.8,426.5 L513.9,425.0 L517.1,423.5 L520.2,421.9 L523.4,420.4 L526.6,418.8 L529.7,417.3 L532.9,415.8 L536.0,414.3 L539.2,412.9 L542.4,411.6 L545.5,410.3 L548.7,409.0 L551.8,407.8 L555.0,406.7 L558.1,405.7 L561.3,404.7 L564.5,403.9 L567.6,403.1 L570.8,402.4 L573.9,401.9 L577.1,401.4 L580.3,401.0 L583.4,400.8 L586.6,400.6 L589.7,400.5 L592.9,400.4 L596.1,400.5 L599.2,400.6 L602.4,400.9 L605.5,401.1 L608.7,401.5 L611.8,401.9 L615.0,402.3 L618.2,402.8 L621.3,403.4 L624.5,404.0 L627.6,404.7 L630.8,405.3 L634.0,406.1 L637.1,406.8 L640.3,407.6 L643.4,408.4 L646.6,409.2 L649.8,410.1 L652.9,410.9 L656.1,411.8 L659.2,412.7 L662.4,413.6 L665.5,414.6 L668.7,415.5 L671.9,416.5 L675.0,417.4 L678.2,418.4 L681.3,419.3 L684.5,420.3 L687.7,421.3 L690.8,422.2 L694.0,423.2 L697.1,424.2 L700.3,425.2 L703.4,426.1 L706.6,427.1 L709.8,428.1 L712.9,429.1 L716.1,430.0 L719.2,431.0 L722.4,432.0 L725.6,432.9 L728.7,433.9 L731.9,434.9 L735.0,435.8 L738.2,436.8 L741.4,437.7 L744.5,438.6 L747.7,439.6 L750.8,440.5 L754.0,441.4 L757.1,442.4 L760.3,443.3 L763.5,444.2 L766.6,445.1 L769.8,446.0 L772.9,446.9 L776.1,447.8"/>
<path d="M337.0,289.7 L340.2,298.4 L343.4,307.9 L346.5,318.2 L349.7,329.1 L352.8,340.4 L356.0,351.8 L359.1,363.0 L362.3,373.6 L365.5,383.4 L368.6,392.3 L371.8,400.2 L374.9,407.1 L378.1,413.0 L381.3,418.0 L384.4,422.3 L387.6,425.8 L390.7,428.8 L393.9,431.4 L397.1,433.5 L400.2,435.3 L403.4,436.9 L406.5,438.2 L409.7,439.3 L412.8,440.3 L416.0,441.2 L419.2,441.9 L422.3,442.6 L425.5,443.1 L428.6,443.6 L431.8,444.0 L435.0,444.3 L438.1,444.6 L441.3,444.7 L444.4,444.8 L447.6,444.8 L450.7,444.8 L453.9,444.6 L457.1,444.4 L460.2,444.1 L463.4,443.7 L466.5,443.2 L469.7,442.7 L472.9,442.0 L476.0,441.3 L479.2,440.4 L482.3,439.5 L485.5,438.5 L488.7,437.4 L491.8,436.2 L495.0,434.9 L498.1,433.6 L501.3,432.2 L504.4,430.8 L507.6,429.2 L510.8,427.7 L513.9,426.1 L517.1,424.5 L520.2,422.9 L523.4,421.3 L526.6,419.7 L529.7,418.2 L532.9,416.6 L536.0,415.2 L539.2,413.8 L542.4,412.4 L545.5,411.2 L548.7,410.0 L551.8,409.0 L555.0,408.1 L558.1,407.3 L561.3,406.6 L564.5,406.0 L567.6,405.5 L570.8,405.2 L573.9,404.9 L577.1,404.7 L580.3,404.6 L583.4,404.6 L586.6,404.7 L589.7,404.9 L592.9,405.2 L596.1,405.5 L599.2,406.0 L602.4,406.4 L605.5,407.0 L608.7,407.6 L611.8,408.2 L615.0,408.9 L618.2,409.7 L621.3,410.5 L624.5,411.3 L627.6,412.1 L630.8,413.0 L634.0,413.9 L637.1,414.9 L640.3,415.8 L643.4,416.8 L646.6,417.8 L649.8,418.8 L652.9,419.8 L656.1,420.8 L659.2,421.9 L662.4,422.9 L665.5,424.0 L668.7,425.0 L671.9,426.1 L675.0,427.1 L678.2,428.2 L681.3,429.3 L684.5,430.3 L687.7,431.4 L690.8,432.4 L694.0,433.5 L697.1,434.6 L700.3,435.6 L703.4,436.7 L706.6,437.7 L709.8,438.8 L712.9,439.8 L716.1,440.8 L719.2,441.9 L722.4,442.9 L725.6,443.9 L728.7,444.9 L731.9,445.9 L735.0,446.9 L738.2,447.9 L741.4,448.9 L744.5,449.9 L747.7,450.9 L750.8,451.9 L754.0,452.8 L757.1,453.8 L760.3,454.7 L763.5,455.7 L766.6,456.6 L769.8,457.6 L772.9,458.5 L776.1,459.4"/>
<path d="M337.0,289.7 L340.2,298.3 L343.4,307.8 L346.5,318.1 L349.7,329.0 L352.8,340.3 L356.0,351.7 L359.1,362.8 L362.3,373.4 L365.5,383.2 L368.6,392.1 L371.8,400.0 L374.9,406.9 L378.1,412.8 L381.3,417.8 L384.4,422.0 L387.6,425.6 L390.7,428.6 L393.9,431.1 L397.1,433.2 L400.2,435.0 L403.4,436.5 L406.5,437.8 L409.7,439.0 L412.8,439.9 L416.0,440.8 L419.2,441.5 L422.3,442.1 L425.5,442.7 L428.6,443.1 L431.8,443.5 L435.0,443.8 L438.1,444.0 L441.3,444.2 L444.4,444.2 L447.6,444.3 L450.7,444.2 L453.9,444.1 L457.1,443.8 L460.2,443.5 L463.4,443.2 L466.5,442.7 L469.7,442.2 L472.9,441.6 L476.0,440.9 L479.2,440.1 L482.3,439.2 L485.5,438.3 L488.7,437.2 L491.8,436.1 L495.0,434.9 L498.1,433.7 L501.3,432.4 L504.4,431.0 L507.6,429.6 L510.8,428.2 L513.9,426.7 L517.1,425.3 L520.2,423.8 L523.4,422.3 L526.6,420.8 L529.7,419.3 L532.9,417.9 L536.0,416.5 L539.2,415.2 L542.4,413.9 L545.5,412.7 L548.7,411.6 L551.8,410.6 L555.0,409.7 L558.1,409.0 L561.3,408.3 L564.5,407.7 L567.6,407.2 L570.8,406.8 L573.9,406.5 L577.1,406.3 L580.3,406.1 L583.4,406.1 L586.6,406.2 L589.7,406.3 L592.9,406.5 L596.1,406.8 L599.2,407.2 L602.4,407.6 L605.5,408.1 L608.7,408.6 L611.8,409.2 L615.0,409.9 L618.2,410.6 L621.3,411.3 L624.5,412.1 L627.6,412.9 L630.8,413.7 L634.0,414.6 L637.1,415.5 L640.3,416.4 L643.4,417.3 L646.6,418.3 L649.8,419.3 L652.9,420.2 L656.1,421.2 L659.2,422.2 L662.4,423.3 L665.5,424.3 L668.7,425.3 L671.9,426.4 L675.0,427.4 L678.2,428.4 L681.3,429.5 L684.5,430.5 L687.7,431.6 L690.8,432.6 L694.0,433.7 L697.1,434.7 L700.3,435.8 L703.4,436.8 L706.6,437.9 L709.8,438.9 L712.9,439.9 L716.1,440.9 L719.2,442.0 L722.4,443.0 L725.6,444.0 L728.7,445.0 L731.9,446.0 L735.0,447.0 L738.2,448.0 L741.4,449.0 L744.5,450.0 L747.7,451.0 L750.8,451.9 L754.0,452.9 L757.1,453.8 L760.3,454.8 L763.5,455.7 L766.6,456.7 L769.8,457.6 L772.9,458.6 L776.1,459.5"/>
<path d="M337.0,290.8 L340.2,299.4 L343.4,308.9 L346.5,319.1 L349.7,330.0 L352.8,341.2 L356.0,352.5 L359.1,363.6 L362.3,374.1 L365.5,383.9 L368.6,392.7 L371.8,400.6 L374.9,407.4 L378.1,413.3 L381.3,418.2 L384.4,422.5 L387.6,426.0 L390.7,429.0 L393.9,431.5 L397.1,433.6 L400.2,435.3 L403.4,436.8 L406.5,438.1 L409.7,439.2 L412.8,440.2 L416.0,441.0 L419.2,441.7 L422.3,442.3 L425.5,442.9 L428.6,443.3 L431.8,443.7 L435.0,444.0 L438.1,444.2 L441.3,444.3 L444.4,444.4 L447.6,444.4 L450.7,444.4 L453.9,444.3 L457.1,444.1 L460.2,443.8 L463.4,443.5 L466.5,443.1 L469.7,442.6 L472.9,442.0 L476.0,441.4 L479.2,440.7 L482.3,439.9 L485.5,439.0 L488.7,438.1 L491.8,437.1 L495.0,436.0 L498.1,434.9 L501.3,433.8 L504.4,432.5 L507.6,431.3 L510.8,430.0 L513.9,428.7 L517.1,427.3 L520.2,426.0 L523.4,424.7 L526.6,423.3 L529.7,422.0 L532.9,420.7 L536.0,419.5 L539.2,418.3 L542.4,417.2 L545.5,416.1 L548.7,415.0 L551.8,414.0 L555.0,413.1 L558.1,412.3 L561.3,411.5 L564.5,410.8 L567.6,410.2 L570.8,409.7 L573.9,409.3 L577.1,409.0 L580.3,408.7 L583.4,408.6 L586.6,408.5 L589.7,408.5 L592.9,408.5 L596.1,408.7 L599.2,408.9 L602.4,409.1 L605.5,409.5 L608.7,409.8 L611.8,410.3 L615.0,410.8 L618.2,411.3 L621.3,411.9 L624.5,412.5 L627.6,413.1 L630.8,413.8 L634.0,414.5 L637.1,415.3 L640.3,416.0 L643.4,416.8 L646.6,417.7 L649.8,418.5 L652.9,419.3 L656.1,420.2 L659.2,421.1 L662.4,422.0 L665.5,422.9 L668.7,423.8 L671.9,424.7 L675.0,425.6 L678.2,426.5 L681.3,427.5 L684.5,428.4 L687.7,429.3 L690.8,430.3 L694.0,431.2 L697.1,432.1 L700.3,433.1 L703.4,434.0 L706.6,435.0 L709.8,435.9 L712.9,436.8 L716.1,437.8 L719.2,438.7 L722.4,439.6 L725.6,440.6 L728.7,441.5 L731.9,442.4 L735.0,443.3 L738.2,444.2 L741.4,445.1 L744.5,446.0 L747.7,446.9 L750.8,447.8 L754.0,448.7 L757.1,449.6 L760.3,450.5 L763.5,451.4 L766.6,452.3 L769.8,453.1 L772.9,454.0 L776.1,454.8"/>
<path d="M337.0,289.4 L340.2,298.0 L343.4,307.6 L346.5,317.9 L349.7,328.8 L352.8,340.1 L356.0,351.5 L359.1,362.7 L362.3,373.3 L365.5,383.1 L368.6,392.0 L371.8,399.9 L374.9,406.8 L378.1,412.7 L381.3,417.8 L384.4,422.0 L387.6,425.6 L390.7,428.6 L393.9,431.1 L397.1,433.3 L400.2,435.1 L403.4,436.6 L406.5,438.0 L409.7,439.1 L412.8,440.1 L416.0,441.0 L419.2,441.7 L422.3,442.4 L425.5,442.9 L428.6,443.4 L431.8,443.8 L435.0,444.1 L438.1,444.4 L441.3,444.6 L444.4,444.7 L447.6,444.7 L450.7,444.7 L453.9,444.5 L457.1,444.3 L460.2,444.1 L463.4,443.7 L466.5,443.3 L469.7,442.8 L472.9,442.2 L476.0,441.5 L479.2,440.7 L482.3,439.8 L485.5,438.9 L488.7,437.8 L491.8,436.7 L495.0,435.5 L498.1,434.2 L501.3,432.9 L504.4,431.5 L507.6,430.1 L510.8,428.6 L513.9,427.1 L517.1,425.5 L520.2,424.0 L523.4,422.4 L526.6,420.9 L529.7,419.3 L532.9,417.9 L536.0,416.4 L539.2,415.0 L542.4,413.7 L545.5,412.4 L548.7,411.2 L551.8,410.1 L555.0,409.2 L558.1,408.3 L561.3,407.5 L564.5,406.8 L567.6,406.3 L570.8,405.8 L573.9,405.4 L577.1,405.1 L580.3,404.9 L583.4,404.9 L586.6,404.9 L589.7,404.9 L592.9,405.1 L596.1,405.3 L599.2,405.7 L602.4,406.1 L605.5,406.5 L608.7,407.0 L611.8,407.6 L615.0,408.2 L618.2,408.9 L621.3,409.6 L624.5,410.3 L627.6,411.1 L630.8,411.9 L634.0,412.8 L637.1,413.6 L640.3,414.5 L643.4,415.5 L646.6,416.4 L649.8,417.3 L652.9,418.3 L656.1,419.3 L659.2,420.3 L662.4,421.3 L665.5,422.3 L668.7,423.3 L671.9,424.3 L675.0,425.4 L678.2,426.4 L681.3,427.4 L684.5,428.5 L687.7,429.5 L690.8,430.5 L694.0,431.6 L697.1,432.6 L700.3,433.6 L703.4,434.6 L706.6,435.7 L709.8,436.7 L712.9,437.7 L716.1,438.7 L719.2,439.7 L722.4,440.7 L725.6,441.7 L728.7,442.7 L731.9,443.7 L735.0,444.7 L738.2,445.7 L741.4,446.7 L744.5,447.7 L747.7,448.6 L750.8,449.6 L754.0,450.5 L757.1,451.5 L760.3,452.4 L763.5,453.4 L766.6,454.3 L769.8,455.2 L772.9,456.1 L776.1,457.1"/>
<path d="M337.0,288.9 L340.2,297.6 L343.4,307.1 L346.5,317.4 L349.7,328.4 L352.8,339.7 L356.0,351.0 L359.1,362.2 L362.3,372.8 L365.5,382.6 L368.6,391.5 L371.8,399.4 L374.9,406.3 L378.1,412.2 L381.3,417.3 L384.4,421.5 L387.6,425.1 L390.7,428.1 L393.9,430.6 L397.1,432.7 L400.2,434.5 L403.4,436.0 L406.5,437.3 L409.7,438.4 L412.8,439.4 L416.0,440.2 L419.2,440.9 L422.3,441.6 L425.5,442.1 L428.6,442.5 L431.8,442.9 L435.0,443.2 L438.1,443.4 L441.3,443.5 L444.4,443.6 L447.6,443.6 L450.7,443.5 L453.9,443.4 L457.1,443.2 L460.2,442.9 L463.4,442.5 L466.5,442.0 L469.7,441.5 L472.9,440.9 L476.0,440.1 L479.2,439.4 L482.3,438.5 L485.5,437.5 L488.7,436.5 L491.8,435.4 L495.0,434.2 L498.1,433.0 L501.3,431.7 L504.4,430.3 L507.6,428.9 L510.8,427.5 L513.9,426.0 L517.1,424.5 L520.2,423.0 L523.4,421.6 L526.6,420.1 L529.7,418.6 L532.9,417.2 L536.0,415.8 L539.2,414.4 L542.4,413.1 L545.5,411.9 L548.7,410.8 L551.8,409.5 L555.0,408.3 L558.1,407.2 L561.3,406.2 L564.5,405.3 L567.6,404.5 L570.8,403.8 L573.9,403.2 L577.1,402.6 L580.3,402.2 L583.4,401.8 L586.6,401.5 L589.7,401.4 L592.9,401.3 L596.1,401.2 L599.2,401.3 L602.4,401.4 L605.5,401.6 L608.7,401.8 L611.8,402.1 L615.0,402.5 L618.2,402.9 L621.3,403.4 L624.5,403.8 L627.6,404.4 L630.8,405.0 L634.0,405.6 L637.1,406.2 L640.3,406.9 L643.4,407.6 L646.6,408.3 L649.8,409.0 L652.9,409.8 L656.1,410.5 L659.2,411.3 L662.4,412.1 L665.5,412.9 L668.7,413.7 L671.9,414.6 L675.0,415.4 L678.2,416.2 L681.3,417.1 L684.5,417.9 L687.7,418.8 L690.8,419.7 L694.0,420.5 L697.1,421.4 L700.3,422.3 L703.4,423.1 L706.6,424.0 L709.8,424.9 L712.9,425.7 L716.1,426.6 L719.2,427.5 L722.4,428.3 L725.6,429.2 L728.7,430.1 L731.9,430.9 L735.0,431.8 L738.2,432.6 L741.4,433.5 L744.5,434.3 L747.7,435.2 L750.8,436.0 L754.0,436.8 L757.1,437.7 L760.3,438.5 L763.5,439.3 L766.6,440.2 L769.8,441.0 L772.9,441.8 L776.1,442.6"/>
<path d="M337.0,287.5 L340.2,296.2 L343.4,305.8 L346.5,316.2 L349.7,327.3 L352.8,338.7 L356.0,350.2 L359.1,361.4 L362.3,372.1 L365.5,382.0 L368.6,391.0 L371.8,399.0 L374.9,405.9 L378.1,411.9 L381.3,417.0 L384.4,421.3 L387.6,425.0 L390.7,428.0 L393.9,430.6 L397.1,432.8 L400.2,434.7 L403.4,436.3 L406.5,437.7 L409.7,438.9 L412.8,439.9 L416.0,440.8 L419.2,441.6 L422.3,442.3 L425.5,442.9 L428.6,443.5 L431.8,443.9 L435.0,444.3 L438.1,444.6 L441.3,444.9 L444.4,445.0 L447.6,445.1 L450.7,445.1 L453.9,445.1 L457.1,444.9 L460.2,444.7 L463.4,444.3 L466.5,443.9 L469.7,443.4 L472.9,442.8 L476.0,442.1 L479.2,441.3 L482.3,440.3 L485.5,439.3 L488.7,438.2 L491.8,437.0 L495.0,435.7 L498.1,434.3 L501.3,432.8 L504.4,431.3 L507.6,429.6 L510.8,427.9 L513.9,426.2 L517.1,424.4 L520.2,422.6 L523.4,420.8 L526.6,419.0 L529.7,417.2 L532.9,415.4 L536.0,413.7 L539.2,412.0 L542.4,410.5 L545.5,408.9 L548.7,407.5 L551.8,406.2 L555.0,405.0 L558.1,403.9 L561.3,402.9 L564.5,402.1 L567.6,401.4 L570.8,400.7 L573.9,400.2 L577.1,399.8 L580.3,399.6 L583.4,399.4 L586.6,399.3 L589.7,399.4 L592.9,399.5 L596.1,399.7 L599.2,400.0 L602.4,400.4 L605.5,400.8 L608.7,401.3 L611.8,401.9 L615.0,402.5 L618.2,403.2 L621.3,403.9 L624.5,404.7 L627.6,405.5 L630.8,406.4 L634.0,407.2 L637.1,408.1 L640.3,409.1 L643.4,410.0 L646.6,411.0 L649.8,412.0 L652.9,413.0 L656.1,414.0 L659.2,415.0 L662.4,416.0 L665.5,417.1 L668.7,418.1 L671.9,419.2 L675.0,420.2 L678.2,421.3 L681.3,422.4 L684.5,423.4 L687.7,424.5 L690.8,425.5 L694.0,426.6 L697.1,427.7 L700.3,428.7 L703.4,429.8 L706.6,430.8 L709.8,431.9 L712.9,432.9 L716.1,434.0 L719.2,435.0 L722.4,436.0 L725.6,437.0 L728.7,438.1 L731.9,439.1 L735.0,440.1 L738.2,441.1 L741.4,442.1 L744.5,443.1 L747.7,444.1 L750.8,445.0 L754.0,446.0 L757.1,447.0 L760.3,447.9 L763.5,448.9 L766.6,449.9 L769.8,450.8 L772.9,451.7 L776.1,452.7"/>
<path d="M337.0,288.5 L340.2,297.1 L343.4,306.6 L346.5,317.0 L349.7,327.9 L352.8,339.2 L356.0,350.6 L359.1,361.7 L362.3,372.3 L365.5,382.1 L368.6,391.0 L371.8,398.9 L374.9,405.8 L378.1,411.7 L381.3,416.7 L384.4,420.9 L387.6,424.5 L390.7,427.4 L393.9,429.9 L397.1,432.0 L400.2,433.8 L403.4,435.3 L406.5,436.5 L409.7,437.6 L412.8,438.5 L416.0,439.3 L419.2,440.0 L422.3,440.5 L425.5,441.0 L428.6,441.4 L431.8,441.7 L435.0,441.9 L438.1,442.1 L441.3,442.2 L444.4,442.2 L447.6,442.1 L450.7,442.0 L453.9,441.7 L457.1,441.4 L460.2,441.1 L463.4,440.6 L466.5,440.1 L469.7,439.5 L472.9,438.8 L476.0,438.0 L479.2,437.2 L482.3,436.3 L485.5,435.3 L488.7,434.2 L491.8,433.1 L495.0,431.9 L498.1,430.6 L501.3,429.3 L504.4,427.9 L507.6,426.5 L510.8,425.1 L513.9,423.7 L517.1,422.2 L520.2,420.8 L523.4,419.3 L526.6,417.9 L529.7,416.5 L532.9,415.1 L536.0,413.8 L539.2,412.5 L542.4,411.3 L545.5,410.2 L548.7,409.1 L551.8,408.2 L555.0,407.4 L558.1,406.6 L561.3,406.0 L564.5,405.4 L567.6,405.0 L570.8,404.6 L573.9,404.3 L577.1,404.1 L580.3,404.0 L583.4,404.0 L586.6,404.1 L589.7,404.2 L592.9,404.5 L596.1,404.8 L599.2,405.1 L602.4,405.5 L605.5,406.0 L608.7,406.6 L611.8,407.2 L615.0,407.8 L618.2,408.5 L621.3,409.2 L624.5,410.0 L627.6,410.8 L630.8,411.6 L634.0,412.5 L637.1,413.4 L640.3,414.3 L643.4,415.2 L646.6,416.2 L649.8,417.1 L652.9,418.1 L656.1,419.1 L659.2,420.1 L662.4,421.2 L665.5,422.2 L668.7,423.2 L671.9,424.3 L675.0,425.3 L678.2,426.4 L681.3,427.4 L684.5,428.5 L687.7,429.5 L690.8,430.6 L694.0,431.6 L697.1,432.7 L700.3,433.7 L703.4,434.8 L706.6,435.8 L709.8,436.9 L712.9,437.9 L716.1,438.9 L719.2,440.0 L722.4,441.0 L725.6,442.0 L728.7,443.0 L731.9,444.0 L735.0,445.1 L738.2,446.1 L741.4,447.1 L744.5,448.1 L747.7,449.0 L750.8,450.0 L754.0,451.0 L757.1,452.0 L760.3,452.9 L763.5,453.9 L766.6,454.8 L769.8,455.8 L772.9,456.7 L776.1,457.7"/>
<path d="M337.0,290.1 L340.2,298.7 L343.4,308.2 L346.5,318.5 L349.7,329.4 L352.8,340.7 L356.0,352.0 L359.1,363.1 L362.3,373.7 L365.5,383.5 L368.6,392.4 L371.8,400.3 L374.9,407.1 L378.1,413.0 L381.3,418.0 L384.4,422.2 L387.6,425.8 L390.7,428.8 L393.9,431.3 L397.1,433.4 L400.2,435.2 L403.4,436.8 L406.5,438.1 L409.7,439.2 L412.8,440.2 L416.0,441.0 L419.2,441.7 L422.3,442.3 L425.5,442.9 L428.6,443.3 L431.8,443.7 L435.0,444.0 L438.1,444.2 L441.3,444.4 L444.4,444.4 L447.6,444.4 L450.7,444.4 L453.9,444.2 L457.1,444.0 L460.2,443.7 L463.4,443.3 L466.5,442.8 L469.7,442.3 L472.9,441.7 L476.0,440.9 L479.2,440.1 L482.3,439.3 L485.5,438.3 L488.7,437.2 L491.8,436.1 L495.0,434.9 L498.1,433.7 L501.3,432.4 L504.4,431.0 L507.6,429.6 L510.8,428.1 L513.9,426.7 L517.1,425.2 L520.2,423.7 L523.4,422.2 L526.6,420.7 L529.7,419.2 L532.9,417.8 L536.0,416.5 L539.2,415.1 L542.4,413.9 L545.5,412.7 L548.7,411.6 L551.8,410.4 L555.0,409.3 L558.1,408.2 L561.3,407.3 L564.5,406.4 L567.6,405.7 L570.8,405.0 L573.9,404.4 L577.1,404.0 L580.3,403.6 L583.4,403.3 L586.6,403.1 L589.7,403.0 L592.9,402.9 L596.1,402.9 L599.2,403.0 L602.4,403.2 L605.5,403.5 L608.7,403.7 L611.8,404.1 L615.0,404.5 L618.2,404.9 L621.3,405.4 L624.5,406.0 L627.6,406.5 L630.8,407.1 L634.0,407.8 L637.1,408.4 L640.3,409.1 L643.4,409.8 L646.6,410.5 L649.8,411.3 L652.9,412.1 L656.1,412.8 L659.2,413.6 L662.4,414.4 L665.5,415.3 L668.7,416.1 L671.9,416.9 L675.0,417.7 L678.2,418.6 L681.3,419.4 L684.5,420.3 L687.7,421.2 L690.8,422.0 L694.0,422.9 L697.1,423.7 L700.3,424.6 L703.4,425.5 L706.6,426.3 L709.8,427.2 L712.9,428.0 L716.1,428.9 L719.2,429.8 L722.4,430.6 L725.6,431.5 L728.7,432.3 L731.9,433.2 L735.0,434.0 L738.2,434.9 L741.4,435.7 L744.5,436.5 L747.7,437.4 L750.8,438.2 L754.0,439.0 L757.1,439.9 L760.3,440.7 L763.5,441.5 L766.6,442.3 L769.8,443.1 L772.9,443.9 L776.1,444.7"/>
<path d="M337.0,289.3 L340.2,297.9 L343.4,307.4 L346.5,317.8 L349.7,328.7 L352.8,340.0 L356.0,351.4 L359.1,362.5 L362.3,373.1 L365.5,383.0 L368.6,391.9 L371.8,399.8 L374.9,406.7 L378.1,412.6 L381.3,417.6 L384.4,421.9 L387.6,425.4 L390.7,428.5 L393.9,431.0 L397.1,433.1 L400.2,434.9 L403.4,436.5 L406.5,437.8 L409.7,438.9 L412.8,439.9 L416.0,440.8 L419.2,441.5 L422.3,442.2 L425.5,442.7 L428.6,443.2 L431.8,443.6 L435.0,443.9 L438.1,444.2 L441.3,444.4 L444.4,444.5 L447.6,444.5 L450.7,444.5 L453.9,444.4 L457.1,444.2 L460.2,443.9 L463.4,443.6 L466.5,443.2 L469.7,442.7 L472.9,442.1 L476.0,441.4 L479.2,440.7 L482.3,439.8 L485.5,438.9 L488.7,437.9 L491.8,436.8 L495.0,435.7 L498.1,434.5 L501.3,433.2 L504.4,431.8 L507.6,430.4 L510.8,429.0 L513.9,427.5 L517.1,426.0 L520.2,424.5 L523.4,423.0 L526.6,421.5 L529.7,420.0 L532.9,418.5 L536.0,417.1 L539.2,415.7 L542.4,414.4 L545.5,413.1 L548.7,411.9 L551.8,410.7 L555.0,409.6 L558.1,408.6 L561.3,407.7 L564.5,406.8 L567.6,406.1 L570.8,405.4 L573.9,404.9 L577.1,404.4 L580.3,404.1 L583.4,403.8 L586.6,403.6 L589.7,403.5 L592.9,403.5 L596.1,403.6 L599.2,403.7 L602.4,404.0 L605.5,404.2 L608.7,404.6 L611.8,405.0 L615.0,405.4 L618.2,405.9 L621.3,406.5 L624.5,407.1 L627.6,407.7 L630.8,408.4 L634.0,409.1 L637.1,409.8 L640.3,410.6 L643.4,411.4 L646.6,412.2 L649.8,413.0 L652.9,413.8 L656.1,414.7 L659.2,415.6 L662.4,416.5 L665.5,417.3 L668.7,418.2 L671.9,419.2 L675.0,420.1 L678.2,421.0 L681.3,421.9 L684.5,422.9 L687.7,423.8 L690.8,424.7 L694.0,425.7 L697.1,426.6 L700.3,427.5 L703.4,428.5 L706.6,429.4 L709.8,430.4 L712.9,431.3 L716.1,432.2 L719.2,433.1 L722.4,434.1 L725.6,435.0 L728.7,435.9 L731.9,436.8 L735.0,437.8 L738.2,438.7 L741.4,439.6 L744.5,440.5 L747.7,441.4 L750.8,442.3 L754.0,443.2 L757.1,444.0 L760.3,444.9 L763.5,445.8 L766.6,446.7 L769.8,447.5 L772.9,448.4 L776.1,449.3"/>
<path d="M337.0,287.6 L340.2,296.3 L343.4,305.9 L346.5,316.3 L349.7,327.2 L352.8,338.6 L356.0,350.1 L359.1,361.2 L362.3,371.9 L365.5,381.8 L368.6,390.7 L371.8,398.7 L374.9,405.6 L378.1,411.5 L381.3,416.6 L384.4,420.8 L387.6,424.4 L390.7,427.4 L393.9,430.0 L397.1,432.1 L400.2,433.9 L403.4,435.4 L406.5,436.7 L409.7,437.9 L412.8,438.8 L416.0,439.6 L419.2,440.4 L422.3,441.0 L425.5,441.5 L428.6,441.9 L431.8,442.3 L435.0,442.5 L438.1,442.7 L441.3,442.9 L444.4,442.9 L447.6,442.9 L450.7,442.8 L453.9,442.6 L457.1,442.3 L460.2,441.9 L463.4,441.5 L466.5,440.9 L469.7,440.3 L472.9,439.6 L476.0,438.8 L479.2,437.9 L482.3,436.9 L485.5,435.9 L488.7,434.7 L491.8,433.5 L495.0,432.2 L498.1,430.8 L501.3,429.3 L504.4,427.8 L507.6,426.3 L510.8,424.7 L513.9,423.1 L517.1,421.4 L520.2,419.8 L523.4,418.1 L526.6,416.5 L529.7,414.9 L532.9,413.3 L536.0,411.8 L539.2,410.4 L542.4,409.0 L545.5,407.7 L548.7,406.5 L551.8,405.2 L555.0,404.0 L558.1,402.9 L561.3,401.9 L564.5,401.0 L567.6,400.2 L570.8,399.6 L573.9,399.0 L577.1,398.5 L580.3,398.1 L583.4,397.8 L586.6,397.6 L589.7,397.5 L592.9,397.5 L596.1,397.5 L599.2,397.7 L602.4,397.9 L605.5,398.2 L608.7,398.5 L611.8,398.9 L615.0,399.3 L618.2,399.8 L621.3,400.3 L624.5,400.9 L627.6,401.5 L630.8,402.2 L634.0,402.9 L637.1,403.6 L640.3,404.3 L643.4,405.1 L646.6,405.9 L649.8,406.7 L652.9,407.5 L656.1,408.4 L659.2,409.2 L662.4,410.1 L665.5,411.0 L668.7,411.8 L671.9,412.7 L675.0,413.6 L678.2,414.5 L681.3,415.4 L684.5,416.3 L687.7,417.3 L690.8,418.2 L694.0,419.1 L697.1,420.0 L700.3,420.9 L703.4,421.8 L706.6,422.8 L709.8,423.7 L712.9,424.6 L716.1,425.5 L719.2,426.4 L722.4,427.3 L725.6,428.2 L728.7,429.1 L731.9,430.0 L735.0,430.9 L738.2,431.8 L741.4,432.7 L744.5,433.6 L747.7,434.5 L750.8,435.4 L754.0,436.2 L757.1,437.1 L760.3,438.0 L763.5,438.8 L766.6,439.7 L769.8,440.5 L772.9,441.4 L776.1,442.2"/>
<path d="M337.0,288.4 L340.2,297.0 L343.4,306.6 L346.5,317.0 L349.7,327.9 L352.8,339.3 L356.0,350.7 L359.1,361.9 L362.3,372.5 L365.5,382.4 L368.6,391.3 L371.8,399.3 L374.9,406.2 L378.1,412.1 L381.3,417.1 L384.4,421.4 L387.6,425.0 L390.7,428.0 L393.9,430.6 L397.1,432.7 L400.2,434.5 L403.4,436.1 L406.5,437.4 L409.7,438.5 L412.8,439.5 L416.0,440.4 L419.2,441.1 L422.3,441.7 L425.5,442.3 L428.6,442.8 L431.8,443.1 L435.0,443.4 L438.1,443.7 L441.3,443.8 L444.4,443.9 L447.6,443.9 L450.7,443.9 L453.9,443.7 L457.1,443.5 L460.2,443.2 L463.4,442.8 L466.5,442.3 L469.7,441.7 L472.9,441.0 L476.0,440.3 L479.2,439.4 L482.3,438.5 L485.5,437.5 L488.7,436.4 L491.8,435.2 L495.0,433.9 L498.1,432.6 L501.3,431.2 L504.4,429.7 L507.6,428.2 L510.8,426.6 L513.9,425.0 L517.1,423.4 L520.2,421.7 L523.4,420.1 L526.6,418.5 L529.7,416.9 L532.9,415.3 L536.0,413.8 L539.2,412.4 L542.4,411.0 L545.5,409.7 L548.7,408.4 L551.8,407.3 L555.0,406.3 L558.1,405.4 L561.3,404.6 L564.5,403.9 L567.6,403.3 L570.8,402.9 L573.9,402.5 L577.1,402.2 L580.3,402.0 L583.4,401.9 L586.6,401.9 L589.7,402.0 L592.9,402.2 L596.1,402.4 L599.2,402.8 L602.4,403.2 L605.5,403.6 L608.7,404.2 L611.8,404.7 L615.0,405.4 L618.2,406.1 L621.3,406.8 L624.5,407.5 L627.6,408.3 L630.8,409.2 L634.0,410.0 L637.1,410.9 L640.3,411.8 L643.4,412.8 L646.6,413.7 L649.8,414.7 L652.9,415.7 L656.1,416.7 L659.2,417.7 L662.4,418.7 L665.5,419.7 L668.7,420.7 L671.9,421.8 L675.0,422.8 L678.2,423.9 L681.3,424.9 L684.5,425.9 L687.7,427.0 L690.8,428.0 L694.0,429.1 L697.1,430.1 L700.3,431.2 L703.4,432.2 L706.6,433.2 L709.8,434.3 L712.9,435.3 L716.1,436.3 L719.2,437.3 L722.4,438.4 L725.6,439.4 L728.7,440.4 L731.9,441.4 L735.0,442.4 L738.2,443.4 L741.4,444.4 L744.5,445.3 L747.7,446.3 L750.8,447.3 L754.0,448.3 L757.1,449.2 L760.3,450.2 L763.5,451.1 L766.6,452.1 L769.8,453.0 L772.9,453.9 L776.1,454.8"/>
<path d="M337.0,290.0 L340.2,298.6 L343.4,308.1 L346.5,318.4 L349.7,329.3 L352.8,340.5 L356.0,351.8 L359.1,362.9 L362.3,373.5 L365.5,383.3 L368.6,392.1 L371.8,400.0 L374.9,406.8 L378.1,412.7 L381.3,417.7 L384.4,421.9 L387.6,425.4 L390.7,428.4 L393.9,430.9 L397.1,433.0 L400.2,434.8 L403.4,436.3 L406.5,437.5 L409.7,438.6 L412.8,439.6 L416.0,440.4 L419.2,441.1 L422.3,441.7 L425.5,442.2 L428.6,442.7 L431.8,443.0 L435.0,443.3 L438.1,443.5 L441.3,443.7 L444.4,443.8 L447.6,443.8 L450.7,443.7 L453.9,443.6 L457.1,443.4 L460.2,443.1 L463.4,442.8 L466.5,442.4 L469.7,441.9 L472.9,441.3 L476.0,440.7 L479.2,440.0 L482.3,439.2 L485.5,438.4 L488.7,437.5 L491.8,436.5 L495.0,435.5 L498.1,434.4 L501.3,433.2 L504.4,432.0 L507.6,430.8 L510.8,429.5 L513.9,428.2 L517.1,426.9 L520.2,425.6 L523.4,424.3 L526.6,423.0 L529.7,421.7 L532.9,420.4 L536.0,419.1 L539.2,417.9 L542.4,416.8 L545.5,415.7 L548.7,414.6 L551.8,413.7 L555.0,412.8 L558.1,412.0 L561.3,411.3 L564.5,410.7 L567.6,410.1 L570.8,409.6 L573.9,409.2 L577.1,408.9 L580.3,408.7 L583.4,408.6 L586.6,408.5 L589.7,408.6 L592.9,408.6 L596.1,408.8 L599.2,409.0 L602.4,409.3 L605.5,409.7 L608.7,410.1 L611.8,410.6 L615.0,411.1 L618.2,411.7 L621.3,412.3 L624.5,412.9 L627.6,413.6 L630.8,414.3 L634.0,415.1 L637.1,415.9 L640.3,416.7 L643.4,417.5 L646.6,418.4 L649.8,419.2 L652.9,420.1 L656.1,421.0 L659.2,421.9 L662.4,422.9 L665.5,423.8 L668.7,424.8 L671.9,425.7 L675.0,426.7 L678.2,427.7 L681.3,428.6 L684.5,429.6 L687.7,430.6 L690.8,431.6 L694.0,432.6 L697.1,433.6 L700.3,434.5 L703.4,435.5 L706.6,436.5 L709.8,437.5 L712.9,438.5 L716.1,439.5 L719.2,440.4 L722.4,441.4 L725.6,442.4 L728.7,443.3 L731.9,444.3 L735.0,445.3 L738.2,446.2 L741.4,447.2 L744.5,448.1 L747.7,449.0 L750.8,450.0 L754.0,450.9 L757.1,451.8 L760.3,452.8 L763.5,453.7 L766.6,454.6 L769.8,455.5 L772.9,456.4 L776.1,457.3"/>
<path d="M337.0,290.3 L340.2,298.9 L343.4,308.4 L346.5,318.6 L349.7,329.5 L352.8,340.8 L356.0,352.1 L359.1,363.2 L362.3,373.8 L365.5,383.5 L368.6,392.4 L371.8,400.3 L374.9,407.1 L378.1,413.0 L381.3,418.0 L384.4,422.2 L387.6,425.7 L390.7,428.7 L393.9,431.2 L397.1,433.3 L400.2,435.1 L403.4,436.6 L406.5,437.9 L409.7,439.0 L412.8,439.9 L416.0,440.7 L419.2,441.4 L422.3,442.0 L425.5,442.6 L428.6,443.0 L431.8,443.3 L435.0,443.6 L438.1,443.8 L441.3,443.9 L444.4,444.0 L447.6,444.0 L450.7,443.9 L453.9,443.7 L457.1,443.5 L460.2,443.1 L463.4,442.7 L466.5,442.3 L469.7,441.7 L472.9,441.1 L476.0,440.3 L479.2,439.5 L482.3,438.6 L485.5,437.7 L488.7,436.7 L491.8,435.6 L495.0,434.4 L498.1,433.2 L501.3,431.9 L504.4,430.6 L507.6,429.2 L510.8,427.8 L513.9,426.4 L517.1,424.9 L520.2,423.5 L523.4,422.0 L526.6,420.6 L529.7,419.2 L532.9,417.9 L536.0,416.6 L539.2,415.3 L542.4,414.1 L545.5,413.0 L548.7,412.0 L551.8,411.0 L555.0,410.1 L558.1,409.2 L561.3,408.5 L564.5,407.9 L567.6,407.3 L570.8,406.9 L573.9,406.5 L577.1,406.3 L580.3,406.1 L583.4,406.0 L586.6,406.0 L589.7,406.0 L592.9,406.2 L596.1,406.4 L599.2,406.7 L602.4,407.0 L605.5,407.4 L608.7,407.9 L611.8,408.4 L615.0,408.9 L618.2,409.5 L621.3,410.2 L624.5,410.9 L627.6,411.6 L630.8,412.3 L634.0,413.1 L637.1,413.9 L640.3,414.7 L643.4,415.6 L646.6,416.5 L649.8,417.3 L652.9,418.2 L656.1,419.2 L659.2,420.1 L662.4,421.0 L665.5,422.0 L668.7,422.9 L671.9,423.9 L675.0,424.8 L678.2,425.8 L681.3,426.7 L684.5,427.7 L687.7,428.7 L690.8,429.7 L694.0,430.6 L697.1,431.6 L700.3,432.6 L703.4,433.5 L706.6,434.5 L709.8,435.5 L712.9,436.4 L716.1,437.4 L719.2,438.3 L722.4,439.3 L725.6,440.2 L728.7,441.2 L731.9,442.1 L735.0,443.1 L738.2,444.0 L741.4,444.9 L744.5,445.9 L747.7,446.8 L750.8,447.7 L754.0,448.6 L757.1,449.5 L760.3,450.4 L763.5,451.3 L766.6,452.2 L769.8,453.1 L772.9,454.0 L776.1,454.8"/>
</g>
<path d="M292.0,238.4 L293.9,238.3 L295.7,238.3 L297.6,238.7 L299.5,239.2 L301.3,240.0 L303.2,240.9 L305.1,242.0 L307.0,243.3 L308.8,244.7 L310.7,246.2 L312.6,247.9 L314.4,249.8 L316.3,251.8 L318.2,254.0 L320.0,256.4 L321.9,259.0 L323.8,261.8 L325.6,264.8 L327.5,268.1 L329.4,271.6 L331.3,275.4 L333.1,279.5 L335.0,283.9 L336.9,288.6 L338.7,293.6 L340.6,299.0 L342.5,304.7 L344.3,310.7 L346.2,316.9 L348.1,323.3 L349.9,330.0 L351.8,336.7 L353.7,343.5 L355.5,350.4 L357.4,357.1 L359.3,363.7 L361.2,370.1 L363.0,376.3 L364.9,382.2 L366.8,387.8 L368.6,393.0 L370.5,397.9 L372.4,402.4 L374.2,406.5 L376.1,410.4 L378.0,413.9 L379.8,417.1 L381.7,420.0 L383.6,422.6 L385.5,425.0 L387.3,427.2 L389.2,429.2 L391.1,431.0 L392.9,432.7 L394.8,434.2 L396.7,435.6 L398.5,436.9 L400.4,438.1 L402.3,439.2 L404.1,440.3 L406.0,441.2 L407.9,442.1 L409.8,443.0 L411.6,443.8 L413.5,444.6 L415.4,445.4 L417.2,446.1 L419.1,446.8 L421.0,447.5 L422.8,448.2 L424.7,448.8 L426.6,449.4 L428.4,450.1 L430.3,450.7 L432.2,451.3 L434.1,451.8 L435.9,452.4 L437.8,453.0 L439.7,453.6 L441.5,454.1 L443.4,454.7 L445.3,455.2 L447.1,455.8 L449.0,456.3 L450.9,456.8 L452.7,457.4 L454.6,457.9 L456.5,458.4 L458.4,458.9 L460.2,459.4 L462.1,460.0 L464.0,460.5 L465.8,461.0 L467.7,461.5 L469.6,462.0 L471.4,462.5 L473.3,463.0 L475.2,463.5 L477.0,464.0 L478.9,464.5 L480.8,465.0 L482.6,465.5 L484.5,466.0 L486.4,466.5 L488.3,466.9 L490.1,467.4 L492.0,467.9 L493.9,468.4 L495.7,468.9 L497.6,469.3 L499.5,469.8 L501.3,470.3 L503.2,470.7 L505.1,471.2 L506.9,471.7 L508.8,472.1 L510.7,472.6 L512.6,473.1 L514.4,473.5 L516.3,474.0 L518.2,474.4 L520.0,474.9 L521.9,475.3 L523.8,475.8 L525.6,476.2 L527.5,476.7 L529.4,477.1 L531.2,477.5 L533.1,478.0 L535.0,478.4 L536.9,478.9 L538.7,479.3 L540.6,479.7 L542.5,480.2 L544.3,480.6 L546.2,481.0 L548.1,481.4 L549.9,481.9 L551.8,482.3 L553.7,482.7 L555.5,483.1 L557.4,483.6 L559.3,484.0 L561.2,484.4 L563.0,484.8 L564.9,485.2 L566.8,485.6 L568.6,486.0 L570.5,486.4 L572.4,486.8 L574.2,487.2 L576.1,487.6 L578.0,488.0 L579.8,488.4 L581.7,488.8 L583.6,489.2 L585.5,489.6 L587.3,490.0 L589.2,490.4 L591.1,490.8 L592.9,491.2 L594.8,491.6 L596.7,492.0 L598.5,492.3 L600.4,492.7 L602.3,493.1 L604.1,493.5 L606.0,493.9 L607.9,494.2 L609.7,494.6 L611.6,495.0 L613.5,495.4 L615.4,495.7 L617.2,496.1 L619.1,496.5 L621.0,496.8 L622.8,497.2 L624.7,497.6 L626.6,497.9 L628.4,498.3 L630.3,498.6 L632.2,499.0 L634.0,499.4 L635.9,499.7 L637.8,500.1 L639.7,500.4 L641.5,500.8 L643.4,501.1 L645.3,501.5 L647.1,501.8 L649.0,502.1 L650.9,502.5 L652.7,502.8 L654.6,503.2 L656.5,503.5 L658.3,503.9 L660.2,504.2 L662.1,504.5 L664.0,504.9 L665.8,505.2 L667.7,505.5 L669.6,505.9 L671.4,506.2 L673.3,506.5 L675.2,506.8 L677.0,507.2 L678.9,507.5 L680.8,507.8 L682.6,508.1 L684.5,508.4 L686.4,508.8 L688.3,509.1 L690.1,509.4 L692.0,509.7 L693.9,510.0 L695.7,510.3 L697.6,510.7 L699.5,511.0 L701.3,511.3 L703.2,511.6 L705.1,511.9 L706.9,512.2 L708.8,512.5 L710.7,512.8 L712.6,513.1 L714.4,513.4 L716.3,513.7 L718.2,514.0 L720.0,514.3 L721.9,514.6 L723.8,514.9 L725.6,515.2 L727.5,515.5 L729.4,515.8 L731.2,516.0 L733.1,516.3 L735.0,516.6 L736.8,516.9 L738.7,517.2 L740.6,517.5 L742.5,517.8 L744.3,518.0 L746.2,518.3 L748.1,518.6 L749.9,518.9 L751.8,519.2 L753.7,519.4 L755.5,519.7 L757.4,520.0 L759.3,520.3 L761.1,520.5 L763.0,520.8 L764.9,521.1 L766.8,521.3 L768.6,521.6 L770.5,521.9 L772.4,522.1 L774.2,522.4 L776.1,522.7" fill="none" stroke="#cd8540" stroke-width="2"/>
<path d="M396.5,432.0 L398.9,433.4 L401.3,434.7 L403.7,435.8 L406.1,436.8 L408.5,437.7 L410.9,438.5 L413.3,439.2 L415.6,439.9 L418.0,440.4 L420.4,441.0 L422.8,441.4 L425.2,441.8 L427.6,442.2 L430.0,442.5 L432.3,442.8 L434.7,443.0 L437.1,443.2 L439.5,443.4 L441.9,443.5 L444.3,443.5 L446.7,443.5 L449.1,443.5 L451.4,443.5 L453.8,443.4 L456.2,443.2 L458.6,443.0 L461.0,442.8 L463.4,442.5 L465.8,442.1 L468.2,441.7 L470.5,441.3 L472.9,440.8 L475.3,440.3 L477.7,439.7 L480.1,439.1 L482.5,438.4 L484.9,437.7 L487.3,436.9 L489.6,436.1 L492.0,435.2 L494.4,434.3 L496.8,433.3 L499.2,432.4 L501.6,431.3 L504.0,430.3 L506.3,429.2 L508.7,428.1 L511.1,427.0 L513.5,425.8 L515.9,424.6 L518.3,423.5 L520.7,422.3 L523.1,421.1 L525.4,419.9 L527.8,418.8 L530.2,417.6 L532.6,416.5 L535.0,415.4 L537.4,414.3 L539.8,413.3 L542.2,412.3 L544.5,411.3 L546.9,410.4 L549.3,409.5 L551.7,408.7 L554.1,407.9 L556.5,407.2 L558.9,406.5 L561.3,405.9 L563.6,405.4 L566.0,404.9 L568.4,404.4 L570.8,404.0 L573.2,403.7 L575.6,403.4 L578.0,403.2 L580.4,403.1 L582.7,403.0 L585.1,402.9 L587.5,402.9 L589.9,402.9 L592.3,403.0 L594.7,403.1 L597.1,403.3 L599.4,403.5 L601.8,403.8 L604.2,404.1 L606.6,404.4 L609.0,404.8 L611.4,405.1 L613.8,405.6 L616.2,406.0 L618.5,406.5 L620.9,407.0 L623.3,407.5 L625.7,408.1 L628.1,408.6 L630.5,409.2 L632.9,409.8 L635.3,410.4 L637.6,411.1 L640.0,411.7 L642.4,412.4 L644.8,413.1 L647.2,413.7 L649.6,414.4 L652.0,415.1 L654.4,415.9 L656.7,416.6 L659.1,417.3 L661.5,418.0 L663.9,418.8 L666.3,419.5 L668.7,420.3 L671.1,421.0 L673.5,421.8 L675.8,422.5 L678.2,423.3 L680.6,424.0 L683.0,424.8 L685.4,425.6 L687.8,426.3 L690.2,427.1 L692.5,427.8 L694.9,428.6 L697.3,429.4 L699.7,430.1 L702.1,430.9 L704.5,431.6 L706.9,432.4 L709.3,433.2 L711.6,433.9 L714.0,434.7 L716.4,435.4 L718.8,436.2 L721.2,436.9 L723.6,437.7 L726.0,438.4 L728.4,439.1 L730.7,439.9 L733.1,440.6 L735.5,441.3 L737.9,442.1 L740.3,442.8 L742.7,443.5 L745.1,444.3 L747.5,445.0 L749.8,445.7 L752.2,446.4 L754.6,447.1 L757.0,447.8 L759.4,448.5 L761.8,449.2 L764.2,449.9 L766.6,450.6 L768.9,451.3 L771.3,452.0 L773.7,452.7 L776.1,453.4" fill="none" stroke="#5e9bc9" stroke-width="2.9" stroke-dasharray="4.2,3.5"/>
<g fill="#000">
<circle cx="425.2" cy="438.5" r="1.75"/>
<circle cx="431.5" cy="455.6" r="1.75"/>
<circle cx="437.8" cy="446.6" r="1.75"/>
<circle cx="444.1" cy="438.5" r="1.75"/>
<circle cx="450.5" cy="447.6" r="1.75"/>
<circle cx="456.8" cy="449.5" r="1.75"/>
<circle cx="463.1" cy="439.6" r="1.75"/>
<circle cx="469.4" cy="428.6" r="1.75"/>
<circle cx="475.7" cy="443.5" r="1.75"/>
<circle cx="482.0" cy="420.6" r="1.75"/>
<circle cx="488.3" cy="435.5" r="1.75"/>
<circle cx="494.6" cy="438.4" r="1.75"/>
<circle cx="500.9" cy="427.4" r="1.75"/>
<circle cx="507.2" cy="432.4" r="1.75"/>
<circle cx="513.5" cy="421.5" r="1.75"/>
<circle cx="519.8" cy="426.4" r="1.75"/>
<circle cx="526.1" cy="424.4" r="1.75"/>
<circle cx="532.4" cy="424.4" r="1.75"/>
<circle cx="538.7" cy="407.5" r="1.75"/>
<circle cx="545.0" cy="417.5" r="1.75"/>
<circle cx="551.3" cy="409.5" r="1.75"/>
<circle cx="557.6" cy="408.5" r="1.75"/>
<circle cx="563.9" cy="409.5" r="1.75"/>
<circle cx="570.2" cy="404.5" r="1.75"/>
<circle cx="576.5" cy="403.7" r="1.75"/>
<circle cx="582.8" cy="411.5" r="1.75"/>
<circle cx="589.1" cy="396.4" r="1.75"/>
<circle cx="595.4" cy="391.4" r="1.75"/>
<circle cx="601.7" cy="408.5" r="1.75"/>
<circle cx="608.0" cy="410.5" r="1.75"/>
<circle cx="614.3" cy="402.5" r="1.75"/>
<circle cx="620.6" cy="402.5" r="1.75"/>
</g>
<g fill="#666" shape-rendering="crispEdges">
<rect x="57" y="50" width="1" height="551"/>
<rect x="57" y="600" width="734" height="1"/>
<rect x="71.9" y="596.5" width="1" height="3.5"/>
<rect x="109.7" y="597.5" width="1" height="2.5"/>
<rect x="147.5" y="597.5" width="1" height="2.5"/>
<rect x="185.3" y="597.5" width="1" height="2.5"/>
<rect x="223.1" y="596.5" width="1" height="3.5"/>
<rect x="260.9" y="597.5" width="1" height="2.5"/>
<rect x="298.7" y="597.5" width="1" height="2.5"/>
<rect x="336.5" y="597.5" width="1" height="2.5"/>
<rect x="374.3" y="596.5" width="1" height="3.5"/>
<rect x="412.1" y="597.5" width="1" height="2.5"/>
<rect x="450.0" y="597.5" width="1" height="2.5"/>
<rect x="487.8" y="597.5" width="1" height="2.5"/>
<rect x="525.6" y="596.5" width="1" height="3.5"/>
<rect x="563.4" y="597.5" width="1" height="2.5"/>
<rect x="601.2" y="597.5" width="1" height="2.5"/>
<rect x="639.0" y="597.5" width="1" height="2.5"/>
<rect x="676.8" y="596.5" width="1" height="3.5"/>
<rect x="714.6" y="597.5" width="1" height="2.5"/>
<rect x="752.4" y="597.5" width="1" height="2.5"/>
<rect x="790.2" y="597.5" width="1" height="2.5"/>
<rect x="58" y="589.1" width="4" height="1"/>
<rect x="58" y="563.5" width="2.5" height="1"/>
<rect x="58" y="537.9" width="2.5" height="1"/>
<rect x="58" y="512.4" width="2.5" height="1"/>
<rect x="58" y="486.8" width="2.5" height="1"/>
<rect x="58" y="461.2" width="4" height="1"/>
<rect x="58" y="435.6" width="2.5" height="1"/>
<rect x="58" y="410.0" width="2.5" height="1"/>
<rect x="58" y="384.5" width="2.5" height="1"/>
<rect x="58" y="358.9" width="2.5" height="1"/>
<rect x="58" y="333.3" width="4" height="1"/>
<rect x="58" y="307.7" width="2.5" height="1"/>
<rect x="58" y="282.1" width="2.5" height="1"/>
<rect x="58" y="256.6" width="2.5" height="1"/>
<rect x="58" y="231.0" width="2.5" height="1"/>
<rect x="58" y="205.4" width="4" height="1"/>
<rect x="58" y="179.8" width="2.5" height="1"/>
<rect x="58" y="154.2" width="2.5" height="1"/>
<rect x="58" y="128.7" width="2.5" height="1"/>
<rect x="58" y="103.1" width="2.5" height="1"/>
<rect x="58" y="77.5" width="4" height="1"/>
<rect x="58" y="51.9" width="2.5" height="1"/>
</g>
<g fill="#666" font-size="14px">
<text x="70.9" y="616.5" text-anchor="middle">2018</text>
<text x="222.1" y="616.5" text-anchor="middle">2020</text>
<text x="373.3" y="616.5" text-anchor="middle">2022</text>
<text x="524.6" y="616.5" text-anchor="middle">2024</text>
<text x="675.8" y="616.5" text-anchor="middle">2026</text>
<text x="53.3" y="593.5" text-anchor="end">0</text>
<text x="53.3" y="465.6" text-anchor="end">1</text>
<text x="53.3" y="337.7" text-anchor="end">2</text>
<text x="53.3" y="209.8" text-anchor="end">3</text>
<text x="53.3" y="81.9" text-anchor="end">4</text>
</g>
<g fill="none" stroke-width="1.6">
<line x1="806.8" y1="190.9" x2="825" y2="190.9" stroke="#b0b0b0" stroke-width="2"/>
<line x1="806.8" y1="222.7" x2="825" y2="222.7" stroke="#f6f6f6" stroke-width="2"/>
<line x1="806.8" y1="254" x2="843.4" y2="254" stroke="#6aa5d3" stroke-width="1.2" stroke-dasharray="4.3,4.3"/>
<line x1="806.8" y1="304.8" x2="843.4" y2="304.8" stroke="#8a8a8a" stroke-width="1.2" stroke-dasharray="4.3,4.3"/>
<line x1="806.8" y1="356.2" x2="825" y2="356.2" stroke="#d39556" stroke-width="2"/>
<line x1="806.8" y1="439.4" x2="843.4" y2="439.4" stroke="#dca46c" stroke-width="1.2" stroke-dasharray="4.3,4.3"/>
</g>
<circle cx="811.9" cy="408.4" r="2.2" fill="#000"/>
</svg>
<div class="title">Dynamic equilibrium model: 'core' unemployment rate [FRED: LNS13025699/CLFOV16]</div>
<div class="ylab"><span style="word-spacing:-2.8px">Unemployment rate</span> [%]</div>
<div class="xlab">Year</div>
<div class="lg" style="left:832.7px;top:181.0px">DIEM t &lt; 2021</div>
<div class="lg" style="left:832.7px;top:212.7px">MonteCarlo</div>
<div class="lg" style="left:853.1px;top:243.4px">MonteCarlo<br>Average</div>
<div class="lg" style="left:853.1px;top:294.5px">Dynamic equilibria<br>2020 and 2021</div>
<div class="lg" style="left:832.7px;top:345.8px;letter-spacing:-0.08px">Stimulus shock<br>estimate t &gt; 2021</div>
<div class="lg" style="left:823.3px;top:398.0px">Aug '22 +</div>
<div class="lg" style="left:853.1px;top:428.6px">Recession<br>Detection<br>Threshold</div>
</body></html>
